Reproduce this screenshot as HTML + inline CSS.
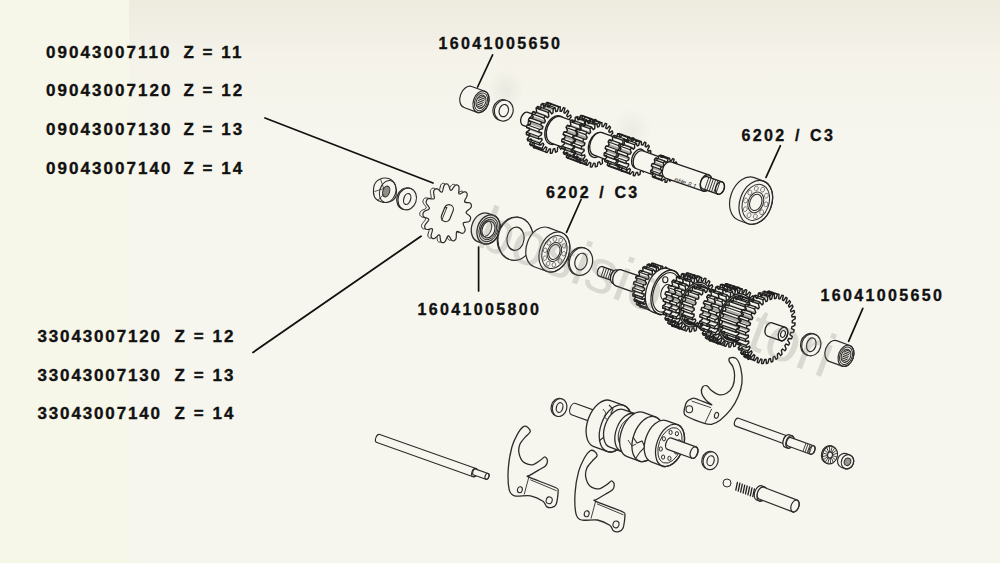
<!DOCTYPE html>
<html><head><meta charset="utf-8"><style>
html,body{margin:0;padding:0;}
body{width:1000px;height:563px;overflow:hidden;position:relative;background:#f7f6ee;}
#strip{position:absolute;left:0;top:0;width:129px;height:563px;background:#f7f7e9;}
#topshade{position:absolute;left:129px;top:0;width:871px;height:140px;background:linear-gradient(to bottom,rgba(200,188,160,0.2),rgba(200,188,160,0.06) 40%,rgba(200,188,160,0));}
svg{position:absolute;left:0;top:0;}
.t{position:absolute;font-family:"Liberation Sans",sans-serif;font-weight:bold;font-size:17px;line-height:18px;letter-spacing:2.05px;color:#111;white-space:pre;-webkit-text-stroke:0.35px #111;}
.s{font-size:16px;letter-spacing:2.35px;}
.wm{position:absolute;font-family:"Liberation Sans",sans-serif;font-size:62px;line-height:normal;color:rgba(120,120,118,0.24);white-space:pre;transform-origin:0 0;}
</style></head><body>
<div id="strip"></div>
<div id="topshade"></div>
<div style="position:absolute;left:488px;top:70px;width:36px;height:40px;background:radial-gradient(closest-side,rgba(150,150,145,0.12),rgba(150,150,145,0));"></div>
<div style="position:absolute;left:612px;top:108px;width:40px;height:44px;background:radial-gradient(closest-side,rgba(150,150,145,0.11),rgba(150,150,145,0));"></div>
<svg width="1000" height="563" viewBox="0 0 1000 563">
<line x1="265" y1="118" x2="433" y2="183" stroke="#111" stroke-width="1.8" stroke-linecap="round"/>
<line x1="253" y1="352.4" x2="421" y2="236.2" stroke="#111" stroke-width="1.8" stroke-linecap="round"/>
<line x1="492.6" y1="54.8" x2="477.6" y2="87" stroke="#111" stroke-width="1.7" stroke-linecap="round"/>
<line x1="780.4" y1="145.7" x2="766" y2="177.4" stroke="#111" stroke-width="1.7" stroke-linecap="round"/>
<line x1="581.1" y1="199.5" x2="566.5" y2="232.3" stroke="#111" stroke-width="1.7" stroke-linecap="round"/>
<line x1="478.6" y1="247" x2="478.6" y2="291" stroke="#111" stroke-width="1.7" stroke-linecap="round"/>
<line x1="862.8" y1="308.4" x2="848.6" y2="341.3" stroke="#111" stroke-width="1.7" stroke-linecap="round"/>
<g transform="translate(474.5 472.6) rotate(19.5)"><path d="M-102 -4.3 L0 -4.3 A2.6 4.3 0 0 1 0 4.3 L-102 4.3 A2.6 4.3 0 0 1 -102 -4.3 Z" fill="#f7f6ee" stroke="#2c2c2c" stroke-width="1.1" stroke-linejoin="round"/><ellipse cx="0" cy="0" rx="2.6" ry="4.3" fill="none" stroke="#2c2c2c" stroke-width="1.1"/></g>
<g transform="translate(487 476.4) rotate(19.5)"><path d="M-13 -3.1 L0 -3.1 A1.9 3.1 0 0 1 0 3.1 L-13 3.1 A1.9 3.1 0 0 1 -13 -3.1 Z" fill="#f7f6ee" stroke="#2c2c2c" stroke-width="1.1" stroke-linejoin="round"/><ellipse cx="0" cy="0" rx="1.9" ry="3.1" fill="none" stroke="#2c2c2c" stroke-width="1.1"/></g>
<g transform="translate(481 101.8) rotate(20)"><path d="M-14 -11.2 L0 -11.2 A7.6 11.2 0 0 1 0 11.2 L-14 11.2 A7.6 11.2 0 0 1 -14 -11.2 Z" fill="#f7f6ee" stroke="#2c2c2c" stroke-width="1.2" stroke-linejoin="round"/><ellipse cx="0" cy="0" rx="7.6" ry="11.2" fill="none" stroke="#2c2c2c" stroke-width="1.2"/><ellipse cx="0" cy="0" rx="6.2" ry="9.2" fill="none" stroke="#2c2c2c" stroke-width="1"/><ellipse cx="0" cy="0" rx="4.7" ry="6.9" fill="#e6e4d8" stroke="#2c2c2c" stroke-width="1"/></g>
<g transform="translate(481 101.8) rotate(20)"><path d="M-3.4 -5.6H2.8" stroke="#2c2c2c" stroke-width="0.9"/><path d="M-3.4 -3.8H2.8" stroke="#2c2c2c" stroke-width="0.9"/><path d="M-3.4 -2H2.8" stroke="#2c2c2c" stroke-width="0.9"/><path d="M-3.4 -0.2H2.8" stroke="#2c2c2c" stroke-width="0.9"/><path d="M-3.4 1.6H2.8" stroke="#2c2c2c" stroke-width="0.9"/><path d="M-3.4 3.4H2.8" stroke="#2c2c2c" stroke-width="0.9"/><path d="M-3.4 5.2H2.8" stroke="#2c2c2c" stroke-width="0.9"/></g>
<ellipse cx="502.3" cy="110.1" rx="9.3" ry="10.5" fill="#f7f6ee" stroke="#2c2c2c" stroke-width="1.2" transform="rotate(15 502.3 110.1)"/>
<ellipse cx="503.8" cy="110.6" rx="9.3" ry="10.5" fill="#f7f6ee" stroke="#2c2c2c" stroke-width="1.2" transform="rotate(15 503.8 110.6)"/>
<ellipse cx="503.8" cy="110.6" rx="4.6" ry="6.2" fill="#f7f6ee" stroke="#2c2c2c" stroke-width="1.2" transform="rotate(15 503.8 110.6)"/>
<g transform="translate(533 121.6) rotate(20)"><path d="M-8 -7 L0 -7 A4.5 7 0 0 1 0 7 L-8 7 A4.5 7 0 0 1 -8 -7 Z" fill="#f7f6ee" stroke="#1f1f1f" stroke-width="1.3" stroke-linejoin="round"/><ellipse cx="0" cy="0" rx="4.5" ry="7" fill="none" stroke="#1f1f1f" stroke-width="1.3"/></g>
<g transform="translate(555.3 130.1) rotate(20)"><polygon points="-13,-24 -12.2,-24 -11.4,-23.9 -11,-19.4 -10.3,-19.2 -9.7,-19 -8.2,-22.8 -7.4,-22.4 -6.7,-21.9 -7.2,-17.5 -6.6,-17 -6,-16.5 -3.8,-19.4 -3.2,-18.7 -2.6,-17.8 -4,-13.9 -3.5,-13.2 -3.1,-12.4 -0.4,-14.1 0.1,-13.1 0.5,-12 -1.6,-8.9 -1.3,-8 -1.1,-7.1 1.8,-7.4 2.1,-6.2 2.3,-5 -0.4,-3.1 -0.3,-2.1 -0.2,-1 2.6,0 2.6,1.3 2.5,2.5 -0.4,3.1 -0.5,4.1 -0.6,5.1 1.8,7.4 1.6,8.6 1.3,9.8 -1.6,8.9 -1.9,9.8 -2.3,10.7 -0.4,14.1 -0.9,15.1 -1.4,16.1 -4,13.9 -4.4,14.6 -4.9,15.3 -3.8,19.4 -4.5,20.1 -5.2,20.8 -7.2,17.5 -7.8,18 -8.4,18.4 -8.2,22.8 -9,23.2 -9.8,23.5 -11,19.4 -11.7,19.6 -12.3,19.7 -13,24 -13.8,24 -14.6,23.9 -15,19.4 -15.7,19.2 -16.3,19 -17.8,22.8 -18.6,22.4 -19.3,21.9 -18.8,17.5 -19.4,17 -20,16.5 -22.2,19.4 -22.8,18.7 -23.4,17.8 -22,13.9 -22.5,13.2 -22.9,12.4 -25.6,14.1 -26.1,13.1 -26.5,12 -24.4,8.9 -24.7,8 -24.9,7.1 -27.8,7.4 -28.1,6.2 -28.3,5 -25.6,3.1 -25.7,2.1 -25.8,1 -28.6,0 -28.6,-1.3 -28.5,-2.5 -25.6,-3.1 -25.5,-4.1 -25.4,-5.1 -27.8,-7.4 -27.6,-8.6 -27.3,-9.8 -24.4,-8.9 -24.1,-9.8 -23.7,-10.7 -25.6,-14.1 -25.1,-15.1 -24.6,-16.1 -22,-13.9 -21.6,-14.6 -21.1,-15.3 -22.2,-19.4 -21.5,-20.1 -20.8,-20.8 -18.8,-17.5 -18.2,-18 -17.6,-18.4 -17.8,-22.8 -17,-23.2 -16.2,-23.5 -15,-19.4 -14.3,-19.6 -13.7,-19.7 -13,-24" fill="#f7f6ee"/><rect x="-13" y="-19.7" width="13" height="39.4" fill="#f7f6ee"/><polygon points="-15,19.4 -2,19.4 -3.5,18.9 -16.5,18.9" fill="#a9a8a0"/><polygon points="-18.8,17.5 -5.8,17.5 -7.1,16.3 -20.1,16.3" fill="#a9a8a0"/><polygon points="-22,13.9 -9,13.9 -10.1,12.2 -23.1,12.2" fill="#a9a8a0"/><polygon points="-24.4,8.9 -11.4,8.9 -12,6.8 -25,6.8" fill="#a9a8a0"/><polygon points="-25.6,3.1 -12.6,3.1 -12.8,0.7 -25.8,0.7" fill="#a9a8a0"/><polygon points="-25.6,-3.1 -12.6,-3.1 -12.3,-5.4 -25.3,-5.4" fill="#a9a8a0"/><polygon points="-24.4,-8.9 -11.4,-8.9 -10.6,-11 -23.6,-11" fill="#a9a8a0"/><polygon points="-22,-13.9 -9,-13.9 -7.9,-15.5 -20.9,-15.5" fill="#a9a8a0"/><polygon points="-18.8,-17.5 -5.8,-17.5 -4.4,-18.5 -17.4,-18.5" fill="#a9a8a0"/><polyline points="-13,24 -13.8,24 -14.6,23.9 -15,19.4 -15.7,19.2 -16.3,19 -17.8,22.8 -18.6,22.4 -19.3,21.9 -18.8,17.5 -19.4,17 -20,16.5 -22.2,19.4 -22.8,18.7 -23.4,17.8 -22,13.9 -22.5,13.2 -22.9,12.4 -25.6,14.1 -26.1,13.1 -26.5,12 -24.4,8.9 -24.7,8 -24.9,7.1 -27.8,7.4 -28.1,6.2 -28.3,5 -25.6,3.1 -25.7,2.1 -25.8,1 -28.6,0 -28.6,-1.3 -28.5,-2.5 -25.6,-3.1 -25.5,-4.1 -25.4,-5.1 -27.8,-7.4 -27.6,-8.6 -27.3,-9.8 -24.4,-8.9 -24.1,-9.8 -23.7,-10.7 -25.6,-14.1 -25.1,-15.1 -24.6,-16.1 -22,-13.9 -21.6,-14.6 -21.1,-15.3 -22.2,-19.4 -21.5,-20.1 -20.8,-20.8 -18.8,-17.5 -18.2,-18 -17.6,-18.4 -17.8,-22.8 -17,-23.2 -16.2,-23.5 -15,-19.4 -14.3,-19.6 -13.7,-19.7 -13,-24" fill="none" stroke="#1f1f1f" stroke-width="1.4" stroke-linejoin="round"/><path d="M-14.9 23.8H-1.9M-17.8 22.8H-4.8M-19.6 21.8H-6.6M-22.2 19.4H-9.2M-23.6 17.6H-10.6M-25.6 14.1H-12.6M-26.6 11.7H-13.6M-27.8 7.4H-14.8M-28.3 4.6H-15.3M-28.6 0H-15.6M-28.5 -2.9H-15.5M-27.8 -7.4H-14.8M-27.2 -10.1H-14.2M-25.6 -14.1H-12.6M-24.4 -16.3H-11.4M-22.2 -19.4H-9.2M-20.6 -21H-7.6M-17.8 -22.8H-4.8M-16 -23.5H-3" stroke="#1f1f1f" stroke-width="1.2"/><polygon points="0,-24 0.8,-24 1.6,-23.9 2,-19.4 2.7,-19.2 3.3,-19 4.8,-22.8 5.6,-22.4 6.3,-21.9 5.8,-17.5 6.4,-17 7,-16.5 9.2,-19.4 9.8,-18.7 10.4,-17.8 9,-13.9 9.5,-13.2 9.9,-12.4 12.6,-14.1 13.1,-13.1 13.5,-12 11.4,-8.9 11.7,-8 11.9,-7.1 14.8,-7.4 15.1,-6.2 15.3,-5 12.6,-3.1 12.7,-2.1 12.8,-1 15.6,0 15.6,1.3 15.5,2.5 12.6,3.1 12.5,4.1 12.4,5.1 14.8,7.4 14.6,8.6 14.3,9.8 11.4,8.9 11.1,9.8 10.7,10.7 12.6,14.1 12.1,15.1 11.6,16.1 9,13.9 8.6,14.6 8.1,15.3 9.2,19.4 8.5,20.1 7.8,20.8 5.8,17.5 5.2,18 4.6,18.4 4.8,22.8 4,23.2 3.2,23.5 2,19.4 1.3,19.6 0.7,19.7 0,24 -0.8,24 -1.6,23.9 -2,19.4 -2.7,19.2 -3.3,19 -4.8,22.8 -5.6,22.4 -6.3,21.9 -5.8,17.5 -6.4,17 -7,16.5 -9.2,19.4 -9.8,18.7 -10.4,17.8 -9,13.9 -9.5,13.2 -9.9,12.4 -12.6,14.1 -13.1,13.1 -13.5,12 -11.4,8.9 -11.7,8 -11.9,7.1 -14.8,7.4 -15.1,6.2 -15.3,5 -12.6,3.1 -12.7,2.1 -12.8,1 -15.6,0 -15.6,-1.3 -15.5,-2.5 -12.6,-3.1 -12.5,-4.1 -12.4,-5.1 -14.8,-7.4 -14.6,-8.6 -14.3,-9.8 -11.4,-8.9 -11.1,-9.8 -10.7,-10.7 -12.6,-14.1 -12.1,-15.1 -11.6,-16.1 -9,-13.9 -8.6,-14.6 -8.1,-15.3 -9.2,-19.4 -8.5,-20.1 -7.8,-20.8 -5.8,-17.5 -5.2,-18 -4.6,-18.4 -4.8,-22.8 -4,-23.2 -3.2,-23.5 -2,-19.4 -1.3,-19.6 -0.7,-19.7 0,-24" fill="#f7f6ee" stroke="#1f1f1f" stroke-width="1.4" stroke-linejoin="round"/><ellipse cx="0" cy="0" rx="9.8" ry="15" fill="#f7f6ee" stroke="#1f1f1f" stroke-width="1.3"/></g>
<g transform="translate(576.7 137.4) rotate(20)"><path d="M-22 -14 L0 -14 A9.1 14 0 0 1 0 14 L-22 14 A9.1 14 0 0 1 -22 -14 Z" fill="#f7f6ee" stroke="#1f1f1f" stroke-width="1.3" stroke-linejoin="round"/><ellipse cx="0" cy="0" rx="9.1" ry="14" fill="none" stroke="#1f1f1f" stroke-width="1.3"/></g>
<g transform="translate(587.1 141.1) rotate(20)"><polygon points="-10,-23 -9.2,-23 -8.4,-22.9 -8,-18.8 -7.3,-18.6 -6.6,-18.4 -5.1,-21.8 -4.4,-21.3 -3.6,-20.8 -4.1,-16.8 -3.5,-16.3 -2.9,-15.7 -0.8,-18.2 -0.2,-17.3 0.4,-16.5 -0.9,-12.9 -0.4,-12.1 0,-11.3 2.5,-12.6 2.9,-11.5 3.3,-10.4 1.4,-7.7 1.6,-6.7 1.8,-5.7 4.5,-5.6 4.7,-4.4 4.8,-3.2 2.4,-1.6 2.4,-0.5 2.4,0.5 4.9,1.9 4.8,3.2 4.7,4.4 2,4.7 1.8,5.7 1.6,6.7 3.7,9.2 3.3,10.4 2.9,11.5 0.4,10.4 0,11.3 -0.4,12.1 1,15.6 0.4,16.5 -0.2,17.3 -2.4,15.1 -2.9,15.7 -3.5,16.3 -2.9,20.2 -3.6,20.8 -4.4,21.3 -6,18.1 -6.6,18.4 -7.3,18.6 -7.5,22.7 -8.4,22.9 -9.2,23 -10,19.1 -10.7,19.1 -11.4,19 -12.5,22.7 -13.3,22.4 -14.1,22.1 -14,18.1 -14.7,17.7 -15.3,17.3 -17.1,20.2 -17.8,19.6 -18.5,18.9 -17.6,15.1 -18.1,14.4 -18.7,13.7 -21,15.6 -21.5,14.6 -22,13.6 -20.4,10.4 -20.7,9.5 -21.1,8.6 -23.7,9.2 -24,8.1 -24.3,6.9 -22,4.7 -22.2,3.7 -22.3,2.6 -24.9,1.9 -24.9,0.6 -24.9,-0.6 -22.4,-1.6 -22.3,-2.6 -22.2,-3.7 -24.5,-5.6 -24.3,-6.9 -24,-8.1 -21.4,-7.7 -21.1,-8.6 -20.7,-9.5 -22.5,-12.6 -22,-13.6 -21.5,-14.6 -19.1,-12.9 -18.7,-13.7 -18.1,-14.4 -19.2,-18.2 -18.5,-18.9 -17.8,-19.6 -15.9,-16.8 -15.3,-17.3 -14.7,-17.7 -14.9,-21.8 -14.1,-22.1 -13.3,-22.4 -12,-18.8 -11.4,-19 -10.7,-19.1 -10,-23" fill="#f7f6ee"/><rect x="-10" y="-19.1" width="10" height="38.2" fill="#f7f6ee"/><polygon points="-14,18.1 -4,18.1 -5.5,17.1 -15.5,17.1" fill="#a9a8a0"/><polygon points="-17.6,15.1 -7.6,15.1 -8.8,13.5 -18.8,13.5" fill="#a9a8a0"/><polygon points="-20.4,10.4 -10.4,10.4 -11.2,8.4 -21.2,8.4" fill="#a9a8a0"/><polygon points="-22,4.7 -12,4.7 -12.3,2.3 -22.3,2.3" fill="#a9a8a0"/><polygon points="-22.4,-1.6 -12.4,-1.6 -12.1,-3.9 -22.1,-3.9" fill="#a9a8a0"/><polygon points="-21.4,-7.7 -11.4,-7.7 -10.6,-9.8 -20.6,-9.8" fill="#a9a8a0"/><polygon points="-19.1,-12.9 -9.1,-12.9 -8,-14.6 -18,-14.6" fill="#a9a8a0"/><polygon points="-15.9,-16.8 -5.9,-16.8 -4.5,-17.8 -14.5,-17.8" fill="#a9a8a0"/><polygon points="-12,-18.8 -2,-18.8 -0.5,-19.1 -10.5,-19.1" fill="#a9a8a0"/><polyline points="-10,19.1 -10.7,19.1 -11.4,19 -12.5,22.7 -13.3,22.4 -14.1,22.1 -14,18.1 -14.7,17.7 -15.3,17.3 -17.1,20.2 -17.8,19.6 -18.5,18.9 -17.6,15.1 -18.1,14.4 -18.7,13.7 -21,15.6 -21.5,14.6 -22,13.6 -20.4,10.4 -20.7,9.5 -21.1,8.6 -23.7,9.2 -24,8.1 -24.3,6.9 -22,4.7 -22.2,3.7 -22.3,2.6 -24.9,1.9 -24.9,0.6 -24.9,-0.6 -22.4,-1.6 -22.3,-2.6 -22.2,-3.7 -24.5,-5.6 -24.3,-6.9 -24,-8.1 -21.4,-7.7 -21.1,-8.6 -20.7,-9.5 -22.5,-12.6 -22,-13.6 -21.5,-14.6 -19.1,-12.9 -18.7,-13.7 -18.1,-14.4 -19.2,-18.2 -18.5,-18.9 -17.8,-19.6 -15.9,-16.8 -15.3,-17.3 -14.7,-17.7 -14.9,-21.8 -14.1,-22.1 -13.3,-22.4 -12,-18.8 -11.4,-19 -10.7,-19.1 -10,-23" fill="none" stroke="#1f1f1f" stroke-width="1.4" stroke-linejoin="round"/><path d="M-12.5 22.7H-2.5M-14.3 22H-4.3M-17.1 20.2H-7.1M-18.7 18.7H-8.7M-21 15.6H-11M-22.2 13.3H-12.2M-23.7 9.2H-13.7M-24.3 6.5H-14.3M-24.9 1.9H-14.9M-24.9 -1H-14.9M-24.5 -5.6H-14.5M-23.9 -8.4H-13.9M-22.5 -12.6H-12.5M-21.4 -14.9H-11.4M-19.2 -18.2H-9.2M-17.6 -19.8H-7.6M-14.9 -21.8H-4.9M-13 -22.5H-3" stroke="#1f1f1f" stroke-width="1.2"/><polygon points="0,-23 0.8,-23 1.6,-22.9 2,-18.8 2.7,-18.6 3.4,-18.4 4.9,-21.8 5.6,-21.3 6.4,-20.8 5.9,-16.8 6.5,-16.3 7.1,-15.7 9.2,-18.2 9.8,-17.3 10.4,-16.5 9.1,-12.9 9.6,-12.1 10,-11.3 12.5,-12.6 12.9,-11.5 13.3,-10.4 11.4,-7.7 11.6,-6.7 11.8,-5.7 14.5,-5.6 14.7,-4.4 14.8,-3.2 12.4,-1.6 12.4,-0.5 12.4,0.5 14.9,1.9 14.8,3.2 14.7,4.4 12,4.7 11.8,5.7 11.6,6.7 13.7,9.2 13.3,10.4 12.9,11.5 10.4,10.4 10,11.3 9.6,12.1 11,15.6 10.4,16.5 9.8,17.3 7.6,15.1 7.1,15.7 6.5,16.3 7.1,20.2 6.4,20.8 5.6,21.3 4,18.1 3.4,18.4 2.7,18.6 2.5,22.7 1.6,22.9 0.8,23 0,19.1 -0.7,19.1 -1.4,19 -2.5,22.7 -3.3,22.4 -4.1,22.1 -4,18.1 -4.7,17.7 -5.3,17.3 -7.1,20.2 -7.8,19.6 -8.5,18.9 -7.6,15.1 -8.1,14.4 -8.7,13.7 -11,15.6 -11.5,14.6 -12,13.6 -10.4,10.4 -10.7,9.5 -11.1,8.6 -13.7,9.2 -14,8.1 -14.3,6.9 -12,4.7 -12.2,3.7 -12.3,2.6 -14.9,1.9 -14.9,0.6 -14.9,-0.6 -12.4,-1.6 -12.3,-2.6 -12.2,-3.7 -14.5,-5.6 -14.3,-6.9 -14,-8.1 -11.4,-7.7 -11.1,-8.6 -10.7,-9.5 -12.5,-12.6 -12,-13.6 -11.5,-14.6 -9.1,-12.9 -8.7,-13.7 -8.1,-14.4 -9.2,-18.2 -8.5,-18.9 -7.8,-19.6 -5.9,-16.8 -5.3,-17.3 -4.7,-17.7 -4.9,-21.8 -4.1,-22.1 -3.3,-22.4 -2,-18.8 -1.4,-19 -0.7,-19.1 0,-23" fill="#f7f6ee" stroke="#1f1f1f" stroke-width="1.4" stroke-linejoin="round"/></g>
<g transform="translate(597.4 144.9) rotate(20)"><polygon points="-10,-23 -9.2,-23 -8.4,-22.9 -8,-18.8 -7.3,-18.6 -6.6,-18.4 -5.1,-21.8 -4.4,-21.3 -3.6,-20.8 -4.1,-16.8 -3.5,-16.3 -2.9,-15.7 -0.8,-18.2 -0.2,-17.3 0.4,-16.5 -0.9,-12.9 -0.4,-12.1 0,-11.3 2.5,-12.6 2.9,-11.5 3.3,-10.4 1.4,-7.7 1.6,-6.7 1.8,-5.7 4.5,-5.6 4.7,-4.4 4.8,-3.2 2.4,-1.6 2.4,-0.5 2.4,0.5 4.9,1.9 4.8,3.2 4.7,4.4 2,4.7 1.8,5.7 1.6,6.7 3.7,9.2 3.3,10.4 2.9,11.5 0.4,10.4 0,11.3 -0.4,12.1 1,15.6 0.4,16.5 -0.2,17.3 -2.4,15.1 -2.9,15.7 -3.5,16.3 -2.9,20.2 -3.6,20.8 -4.4,21.3 -6,18.1 -6.6,18.4 -7.3,18.6 -7.5,22.7 -8.4,22.9 -9.2,23 -10,19.1 -10.7,19.1 -11.4,19 -12.5,22.7 -13.3,22.4 -14.1,22.1 -14,18.1 -14.7,17.7 -15.3,17.3 -17.1,20.2 -17.8,19.6 -18.5,18.9 -17.6,15.1 -18.1,14.4 -18.7,13.7 -21,15.6 -21.5,14.6 -22,13.6 -20.4,10.4 -20.7,9.5 -21.1,8.6 -23.7,9.2 -24,8.1 -24.3,6.9 -22,4.7 -22.2,3.7 -22.3,2.6 -24.9,1.9 -24.9,0.6 -24.9,-0.6 -22.4,-1.6 -22.3,-2.6 -22.2,-3.7 -24.5,-5.6 -24.3,-6.9 -24,-8.1 -21.4,-7.7 -21.1,-8.6 -20.7,-9.5 -22.5,-12.6 -22,-13.6 -21.5,-14.6 -19.1,-12.9 -18.7,-13.7 -18.1,-14.4 -19.2,-18.2 -18.5,-18.9 -17.8,-19.6 -15.9,-16.8 -15.3,-17.3 -14.7,-17.7 -14.9,-21.8 -14.1,-22.1 -13.3,-22.4 -12,-18.8 -11.4,-19 -10.7,-19.1 -10,-23" fill="#f7f6ee"/><rect x="-10" y="-19.1" width="10" height="38.2" fill="#f7f6ee"/><polygon points="-14,18.1 -4,18.1 -5.5,17.1 -15.5,17.1" fill="#a9a8a0"/><polygon points="-17.6,15.1 -7.6,15.1 -8.8,13.5 -18.8,13.5" fill="#a9a8a0"/><polygon points="-20.4,10.4 -10.4,10.4 -11.2,8.4 -21.2,8.4" fill="#a9a8a0"/><polygon points="-22,4.7 -12,4.7 -12.3,2.3 -22.3,2.3" fill="#a9a8a0"/><polygon points="-22.4,-1.6 -12.4,-1.6 -12.1,-3.9 -22.1,-3.9" fill="#a9a8a0"/><polygon points="-21.4,-7.7 -11.4,-7.7 -10.6,-9.8 -20.6,-9.8" fill="#a9a8a0"/><polygon points="-19.1,-12.9 -9.1,-12.9 -8,-14.6 -18,-14.6" fill="#a9a8a0"/><polygon points="-15.9,-16.8 -5.9,-16.8 -4.5,-17.8 -14.5,-17.8" fill="#a9a8a0"/><polygon points="-12,-18.8 -2,-18.8 -0.5,-19.1 -10.5,-19.1" fill="#a9a8a0"/><polyline points="-10,19.1 -10.7,19.1 -11.4,19 -12.5,22.7 -13.3,22.4 -14.1,22.1 -14,18.1 -14.7,17.7 -15.3,17.3 -17.1,20.2 -17.8,19.6 -18.5,18.9 -17.6,15.1 -18.1,14.4 -18.7,13.7 -21,15.6 -21.5,14.6 -22,13.6 -20.4,10.4 -20.7,9.5 -21.1,8.6 -23.7,9.2 -24,8.1 -24.3,6.9 -22,4.7 -22.2,3.7 -22.3,2.6 -24.9,1.9 -24.9,0.6 -24.9,-0.6 -22.4,-1.6 -22.3,-2.6 -22.2,-3.7 -24.5,-5.6 -24.3,-6.9 -24,-8.1 -21.4,-7.7 -21.1,-8.6 -20.7,-9.5 -22.5,-12.6 -22,-13.6 -21.5,-14.6 -19.1,-12.9 -18.7,-13.7 -18.1,-14.4 -19.2,-18.2 -18.5,-18.9 -17.8,-19.6 -15.9,-16.8 -15.3,-17.3 -14.7,-17.7 -14.9,-21.8 -14.1,-22.1 -13.3,-22.4 -12,-18.8 -11.4,-19 -10.7,-19.1 -10,-23" fill="none" stroke="#1f1f1f" stroke-width="1.4" stroke-linejoin="round"/><path d="M-12.5 22.7H-2.5M-14.3 22H-4.3M-17.1 20.2H-7.1M-18.7 18.7H-8.7M-21 15.6H-11M-22.2 13.3H-12.2M-23.7 9.2H-13.7M-24.3 6.5H-14.3M-24.9 1.9H-14.9M-24.9 -1H-14.9M-24.5 -5.6H-14.5M-23.9 -8.4H-13.9M-22.5 -12.6H-12.5M-21.4 -14.9H-11.4M-19.2 -18.2H-9.2M-17.6 -19.8H-7.6M-14.9 -21.8H-4.9M-13 -22.5H-3" stroke="#1f1f1f" stroke-width="1.2"/><polygon points="0,-23 0.8,-23 1.6,-22.9 2,-18.8 2.7,-18.6 3.4,-18.4 4.9,-21.8 5.6,-21.3 6.4,-20.8 5.9,-16.8 6.5,-16.3 7.1,-15.7 9.2,-18.2 9.8,-17.3 10.4,-16.5 9.1,-12.9 9.6,-12.1 10,-11.3 12.5,-12.6 12.9,-11.5 13.3,-10.4 11.4,-7.7 11.6,-6.7 11.8,-5.7 14.5,-5.6 14.7,-4.4 14.8,-3.2 12.4,-1.6 12.4,-0.5 12.4,0.5 14.9,1.9 14.8,3.2 14.7,4.4 12,4.7 11.8,5.7 11.6,6.7 13.7,9.2 13.3,10.4 12.9,11.5 10.4,10.4 10,11.3 9.6,12.1 11,15.6 10.4,16.5 9.8,17.3 7.6,15.1 7.1,15.7 6.5,16.3 7.1,20.2 6.4,20.8 5.6,21.3 4,18.1 3.4,18.4 2.7,18.6 2.5,22.7 1.6,22.9 0.8,23 0,19.1 -0.7,19.1 -1.4,19 -2.5,22.7 -3.3,22.4 -4.1,22.1 -4,18.1 -4.7,17.7 -5.3,17.3 -7.1,20.2 -7.8,19.6 -8.5,18.9 -7.6,15.1 -8.1,14.4 -8.7,13.7 -11,15.6 -11.5,14.6 -12,13.6 -10.4,10.4 -10.7,9.5 -11.1,8.6 -13.7,9.2 -14,8.1 -14.3,6.9 -12,4.7 -12.2,3.7 -12.3,2.6 -14.9,1.9 -14.9,0.6 -14.9,-0.6 -12.4,-1.6 -12.3,-2.6 -12.2,-3.7 -14.5,-5.6 -14.3,-6.9 -14,-8.1 -11.4,-7.7 -11.1,-8.6 -10.7,-9.5 -12.5,-12.6 -12,-13.6 -11.5,-14.6 -9.1,-12.9 -8.7,-13.7 -8.1,-14.4 -9.2,-18.2 -8.5,-18.9 -7.8,-19.6 -5.9,-16.8 -5.3,-17.3 -4.7,-17.7 -4.9,-21.8 -4.1,-22.1 -3.3,-22.4 -2,-18.8 -1.4,-19 -0.7,-19.1 0,-23" fill="#f7f6ee" stroke="#1f1f1f" stroke-width="1.4" stroke-linejoin="round"/><ellipse cx="0" cy="0" rx="8.5" ry="13" fill="#f7f6ee" stroke="#1f1f1f" stroke-width="1.3"/></g>
<g transform="translate(615 150.1) rotate(20)"><path d="M-18 -12 L0 -12 A7.8 12 0 0 1 0 12 L-18 12 A7.8 12 0 0 1 -18 -12 Z" fill="#f7f6ee" stroke="#1f1f1f" stroke-width="1.3" stroke-linejoin="round"/><ellipse cx="0" cy="0" rx="7.8" ry="12" fill="none" stroke="#1f1f1f" stroke-width="1.3"/></g>
<g transform="translate(626.8 154.4) rotate(20)"><polygon points="-11,-17.7 -10.2,-17.7 -9.4,-17.5 -9.1,-14 -8.4,-13.8 -7.8,-13.5 -6.3,-16.2 -5.6,-15.6 -4.9,-15 -5.5,-11.6 -5,-11 -4.5,-10.3 -2.5,-11.8 -1.9,-10.9 -1.5,-9.9 -2.9,-7.2 -2.6,-6.3 -2.4,-5.4 -0.1,-5.5 0.2,-4.3 0.3,-3.1 -1.7,-1.5 -1.7,-0.5 -1.7,0.5 0.4,1.9 0.3,3.1 0.2,4.3 -2.1,4.4 -2.4,5.4 -2.6,6.3 -1,8.8 -1.5,9.9 -1.9,10.9 -4.1,9.6 -4.5,10.3 -5,11 -4.2,14.3 -4.9,15 -5.6,15.6 -7.2,13.1 -7.8,13.5 -8.4,13.8 -8.6,17.3 -9.4,17.5 -10.2,17.7 -11,14.3 -11.7,14.3 -12.3,14.2 -13.4,17.3 -14.2,17 -14.9,16.6 -14.8,13.1 -15.4,12.7 -15.9,12.2 -17.8,14.3 -18.4,13.6 -19,12.7 -17.9,9.6 -18.3,8.8 -18.7,8 -21,8.8 -21.3,7.8 -21.7,6.6 -19.9,4.4 -20,3.5 -20.2,2.5 -22.4,1.9 -22.5,0.6 -22.5,-0.6 -20.3,-1.5 -20.2,-2.5 -20,-3.5 -21.9,-5.5 -21.7,-6.6 -21.3,-7.8 -19.1,-7.2 -18.7,-8 -18.3,-8.8 -19.5,-11.8 -19,-12.7 -18.4,-13.6 -16.5,-11.6 -15.9,-12.2 -15.4,-12.7 -15.7,-16.2 -14.9,-16.6 -14.2,-17 -12.9,-14 -12.3,-14.2 -11.7,-14.3 -11,-17.7" fill="#f7f6ee"/><rect x="-11" y="-14.3" width="11" height="28.7" fill="#f7f6ee"/><polygon points="-14.8,13.1 -3.8,13.1 -5.1,12 -16.1,12" fill="#a9a8a0"/><polygon points="-17.9,9.6 -6.9,9.6 -7.8,7.8 -18.8,7.8" fill="#a9a8a0"/><polygon points="-19.9,4.4 -8.9,4.4 -9.2,2.2 -20.2,2.2" fill="#a9a8a0"/><polygon points="-20.3,-1.5 -9.3,-1.5 -9,-3.7 -20,-3.7" fill="#a9a8a0"/><polygon points="-19.1,-7.2 -8.1,-7.2 -7.2,-9 -18.2,-9" fill="#a9a8a0"/><polygon points="-16.5,-11.6 -5.5,-11.6 -4.2,-12.8 -15.2,-12.8" fill="#a9a8a0"/><polygon points="-12.9,-14 -1.9,-14 -0.5,-14.3 -11.5,-14.3" fill="#a9a8a0"/><polyline points="-11,14.3 -11.7,14.3 -12.3,14.2 -13.4,17.3 -14.2,17 -14.9,16.6 -14.8,13.1 -15.4,12.7 -15.9,12.2 -17.8,14.3 -18.4,13.6 -19,12.7 -17.9,9.6 -18.3,8.8 -18.7,8 -21,8.8 -21.3,7.8 -21.7,6.6 -19.9,4.4 -20,3.5 -20.2,2.5 -22.4,1.9 -22.5,0.6 -22.5,-0.6 -20.3,-1.5 -20.2,-2.5 -20,-3.5 -21.9,-5.5 -21.7,-6.6 -21.3,-7.8 -19.1,-7.2 -18.7,-8 -18.3,-8.8 -19.5,-11.8 -19,-12.7 -18.4,-13.6 -16.5,-11.6 -15.9,-12.2 -15.4,-12.7 -15.7,-16.2 -14.9,-16.6 -14.2,-17 -12.9,-14 -12.3,-14.2 -11.7,-14.3 -11,-17.7" fill="none" stroke="#1f1f1f" stroke-width="1.4" stroke-linejoin="round"/><path d="M-13.4 17.3H-2.4M-15.1 16.5H-4.1M-17.8 14.3H-6.8M-19.2 12.5H-8.2M-21 8.9H-10M-21.7 6.3H-10.7M-22.4 1.9H-11.4M-22.5 -1H-11.5M-21.9 -5.5H-10.9M-21.2 -8.1H-10.2M-19.5 -11.8H-8.5M-18.2 -13.8H-7.2M-15.7 -16.2H-4.7M-14 -17.1H-3" stroke="#1f1f1f" stroke-width="1.2"/><polygon points="0,-17.7 0.8,-17.7 1.6,-17.5 1.9,-14 2.6,-13.8 3.2,-13.5 4.7,-16.2 5.4,-15.6 6.1,-15 5.5,-11.6 6,-11 6.5,-10.3 8.5,-11.8 9.1,-10.9 9.5,-9.9 8.1,-7.2 8.4,-6.3 8.6,-5.4 10.9,-5.5 11.2,-4.3 11.3,-3.1 9.3,-1.5 9.3,-0.5 9.3,0.5 11.4,1.9 11.3,3.1 11.2,4.3 8.9,4.4 8.6,5.4 8.4,6.3 10,8.8 9.5,9.9 9.1,10.9 6.9,9.6 6.5,10.3 6,11 6.8,14.3 6.1,15 5.4,15.6 3.8,13.1 3.2,13.5 2.6,13.8 2.4,17.3 1.6,17.5 0.8,17.7 0,14.3 -0.7,14.3 -1.3,14.2 -2.4,17.3 -3.2,17 -3.9,16.6 -3.8,13.1 -4.4,12.7 -4.9,12.2 -6.8,14.3 -7.4,13.6 -8,12.7 -6.9,9.6 -7.3,8.8 -7.7,8 -10,8.8 -10.3,7.8 -10.7,6.6 -8.9,4.4 -9,3.5 -9.2,2.5 -11.4,1.9 -11.5,0.6 -11.5,-0.6 -9.3,-1.5 -9.2,-2.5 -9,-3.5 -10.9,-5.5 -10.7,-6.6 -10.3,-7.8 -8.1,-7.2 -7.7,-8 -7.3,-8.8 -8.5,-11.8 -8,-12.7 -7.4,-13.6 -5.5,-11.6 -4.9,-12.2 -4.4,-12.7 -4.7,-16.2 -3.9,-16.6 -3.2,-17 -1.9,-14 -1.3,-14.2 -0.7,-14.3 0,-17.7" fill="#f7f6ee" stroke="#1f1f1f" stroke-width="1.4" stroke-linejoin="round"/></g>
<g transform="translate(638.5 158.7) rotate(20)"><polygon points="-11,-17.7 -10.2,-17.7 -9.4,-17.5 -9.1,-14 -8.4,-13.8 -7.8,-13.5 -6.3,-16.2 -5.6,-15.6 -4.9,-15 -5.5,-11.6 -5,-11 -4.5,-10.3 -2.5,-11.8 -1.9,-10.9 -1.5,-9.9 -2.9,-7.2 -2.6,-6.3 -2.4,-5.4 -0.1,-5.5 0.2,-4.3 0.3,-3.1 -1.7,-1.5 -1.7,-0.5 -1.7,0.5 0.4,1.9 0.3,3.1 0.2,4.3 -2.1,4.4 -2.4,5.4 -2.6,6.3 -1,8.8 -1.5,9.9 -1.9,10.9 -4.1,9.6 -4.5,10.3 -5,11 -4.2,14.3 -4.9,15 -5.6,15.6 -7.2,13.1 -7.8,13.5 -8.4,13.8 -8.6,17.3 -9.4,17.5 -10.2,17.7 -11,14.3 -11.7,14.3 -12.3,14.2 -13.4,17.3 -14.2,17 -14.9,16.6 -14.8,13.1 -15.4,12.7 -15.9,12.2 -17.8,14.3 -18.4,13.6 -19,12.7 -17.9,9.6 -18.3,8.8 -18.7,8 -21,8.8 -21.3,7.8 -21.7,6.6 -19.9,4.4 -20,3.5 -20.2,2.5 -22.4,1.9 -22.5,0.6 -22.5,-0.6 -20.3,-1.5 -20.2,-2.5 -20,-3.5 -21.9,-5.5 -21.7,-6.6 -21.3,-7.8 -19.1,-7.2 -18.7,-8 -18.3,-8.8 -19.5,-11.8 -19,-12.7 -18.4,-13.6 -16.5,-11.6 -15.9,-12.2 -15.4,-12.7 -15.7,-16.2 -14.9,-16.6 -14.2,-17 -12.9,-14 -12.3,-14.2 -11.7,-14.3 -11,-17.7" fill="#f7f6ee"/><rect x="-11" y="-14.3" width="11" height="28.7" fill="#f7f6ee"/><polygon points="-14.8,13.1 -3.8,13.1 -5.1,12 -16.1,12" fill="#a9a8a0"/><polygon points="-17.9,9.6 -6.9,9.6 -7.8,7.8 -18.8,7.8" fill="#a9a8a0"/><polygon points="-19.9,4.4 -8.9,4.4 -9.2,2.2 -20.2,2.2" fill="#a9a8a0"/><polygon points="-20.3,-1.5 -9.3,-1.5 -9,-3.7 -20,-3.7" fill="#a9a8a0"/><polygon points="-19.1,-7.2 -8.1,-7.2 -7.2,-9 -18.2,-9" fill="#a9a8a0"/><polygon points="-16.5,-11.6 -5.5,-11.6 -4.2,-12.8 -15.2,-12.8" fill="#a9a8a0"/><polygon points="-12.9,-14 -1.9,-14 -0.5,-14.3 -11.5,-14.3" fill="#a9a8a0"/><polyline points="-11,14.3 -11.7,14.3 -12.3,14.2 -13.4,17.3 -14.2,17 -14.9,16.6 -14.8,13.1 -15.4,12.7 -15.9,12.2 -17.8,14.3 -18.4,13.6 -19,12.7 -17.9,9.6 -18.3,8.8 -18.7,8 -21,8.8 -21.3,7.8 -21.7,6.6 -19.9,4.4 -20,3.5 -20.2,2.5 -22.4,1.9 -22.5,0.6 -22.5,-0.6 -20.3,-1.5 -20.2,-2.5 -20,-3.5 -21.9,-5.5 -21.7,-6.6 -21.3,-7.8 -19.1,-7.2 -18.7,-8 -18.3,-8.8 -19.5,-11.8 -19,-12.7 -18.4,-13.6 -16.5,-11.6 -15.9,-12.2 -15.4,-12.7 -15.7,-16.2 -14.9,-16.6 -14.2,-17 -12.9,-14 -12.3,-14.2 -11.7,-14.3 -11,-17.7" fill="none" stroke="#1f1f1f" stroke-width="1.4" stroke-linejoin="round"/><path d="M-13.4 17.3H-2.4M-15.1 16.5H-4.1M-17.8 14.3H-6.8M-19.2 12.5H-8.2M-21 8.9H-10M-21.7 6.3H-10.7M-22.4 1.9H-11.4M-22.5 -1H-11.5M-21.9 -5.5H-10.9M-21.2 -8.1H-10.2M-19.5 -11.8H-8.5M-18.2 -13.8H-7.2M-15.7 -16.2H-4.7M-14 -17.1H-3" stroke="#1f1f1f" stroke-width="1.2"/><polygon points="0,-17.7 0.8,-17.7 1.6,-17.5 1.9,-14 2.6,-13.8 3.2,-13.5 4.7,-16.2 5.4,-15.6 6.1,-15 5.5,-11.6 6,-11 6.5,-10.3 8.5,-11.8 9.1,-10.9 9.5,-9.9 8.1,-7.2 8.4,-6.3 8.6,-5.4 10.9,-5.5 11.2,-4.3 11.3,-3.1 9.3,-1.5 9.3,-0.5 9.3,0.5 11.4,1.9 11.3,3.1 11.2,4.3 8.9,4.4 8.6,5.4 8.4,6.3 10,8.8 9.5,9.9 9.1,10.9 6.9,9.6 6.5,10.3 6,11 6.8,14.3 6.1,15 5.4,15.6 3.8,13.1 3.2,13.5 2.6,13.8 2.4,17.3 1.6,17.5 0.8,17.7 0,14.3 -0.7,14.3 -1.3,14.2 -2.4,17.3 -3.2,17 -3.9,16.6 -3.8,13.1 -4.4,12.7 -4.9,12.2 -6.8,14.3 -7.4,13.6 -8,12.7 -6.9,9.6 -7.3,8.8 -7.7,8 -10,8.8 -10.3,7.8 -10.7,6.6 -8.9,4.4 -9,3.5 -9.2,2.5 -11.4,1.9 -11.5,0.6 -11.5,-0.6 -9.3,-1.5 -9.2,-2.5 -9,-3.5 -10.9,-5.5 -10.7,-6.6 -10.3,-7.8 -8.1,-7.2 -7.7,-8 -7.3,-8.8 -8.5,-11.8 -8,-12.7 -7.4,-13.6 -5.5,-11.6 -4.9,-12.2 -4.4,-12.7 -4.7,-16.2 -3.9,-16.6 -3.2,-17 -1.9,-14 -1.3,-14.2 -0.7,-14.3 0,-17.7" fill="#f7f6ee" stroke="#1f1f1f" stroke-width="1.4" stroke-linejoin="round"/><ellipse cx="0" cy="0" rx="6.5" ry="10" fill="#f7f6ee" stroke="#1f1f1f" stroke-width="1.3"/></g>
<g transform="translate(659.5 167) rotate(20)"><path d="M-21 -9.5 L0 -9.5 A6.2 9.5 0 0 1 0 9.5 L-21 9.5 A6.2 9.5 0 0 1 -21 -9.5 Z" fill="#f7f6ee" stroke="#1f1f1f" stroke-width="1.3" stroke-linejoin="round"/><ellipse cx="0" cy="0" rx="6.2" ry="9.5" fill="none" stroke="#1f1f1f" stroke-width="1.3"/></g>
<g transform="translate(668.5 170.3) rotate(20)"><polygon points="-9.6,-12.5 -8.8,-12.4 -8.1,-12.3 -7.8,-9.6 -7.2,-9.3 -6.6,-8.9 -5.2,-10.5 -4.6,-9.8 -4,-9 -4.7,-6.5 -4.3,-5.8 -4,-5 -2.2,-5.2 -1.9,-4.1 -1.7,-2.9 -3.2,-1.4 -3.1,-0.5 -3.1,0.5 -1.6,1.8 -1.7,2.9 -1.9,4.1 -3.7,4.2 -4,5 -4.3,5.8 -3.5,8.2 -4,9 -4.6,9.8 -6.1,8.4 -6.6,8.9 -7.2,9.3 -7.3,12 -8.1,12.3 -8.8,12.4 -9.6,10 -10.2,10 -10.8,9.8 -11.9,12 -12.6,11.6 -13.3,11.1 -13.1,8.4 -13.6,7.9 -14.1,7.2 -15.7,8.2 -16.2,7.3 -16.6,6.3 -15.5,4.2 -15.7,3.3 -15.9,2.4 -17.6,1.8 -17.7,0.6 -17.7,-0.6 -16,-1.4 -15.9,-2.4 -15.7,-3.3 -17,-5.2 -16.6,-6.3 -16.2,-7.3 -14.5,-6.5 -14.1,-7.2 -13.6,-7.9 -14,-10.5 -13.3,-11.1 -12.6,-11.6 -11.4,-9.6 -10.8,-9.8 -10.2,-10 -9.6,-12.5" fill="#f7f6ee"/><rect x="-9.6" y="-10" width="9.6" height="20" fill="#f7f6ee"/><polygon points="-9.6,10 0,10 -1.4,9.8 -11,9.8" fill="#a9a8a0"/><polygon points="-13.1,8.4 -3.5,8.4 -4.6,7.1 -14.2,7.1" fill="#a9a8a0"/><polygon points="-15.5,4.2 -5.9,4.2 -6.4,2.1 -16,2.1" fill="#a9a8a0"/><polygon points="-16,-1.4 -6.4,-1.4 -6.1,-3.5 -15.7,-3.5" fill="#a9a8a0"/><polygon points="-14.5,-6.5 -4.9,-6.5 -3.9,-8 -13.5,-8" fill="#a9a8a0"/><polygon points="-11.4,-9.6 -1.8,-9.6 -0.4,-10 -10,-10" fill="#a9a8a0"/><polyline points="-9.6,10 -10.2,10 -10.8,9.8 -11.9,12 -12.6,11.6 -13.3,11.1 -13.1,8.4 -13.6,7.9 -14.1,7.2 -15.7,8.2 -16.2,7.3 -16.6,6.3 -15.5,4.2 -15.7,3.3 -15.9,2.4 -17.6,1.8 -17.7,0.6 -17.7,-0.6 -16,-1.4 -15.9,-2.4 -15.7,-3.3 -17,-5.2 -16.6,-6.2 -16.2,-7.3 -14.5,-6.5 -14.1,-7.2 -13.6,-7.9 -14,-10.5 -13.3,-11.1 -12.6,-11.6 -11.4,-9.6 -10.8,-9.8 -10.2,-10 -9.6,-12.5" fill="none" stroke="#1f1f1f" stroke-width="1.4" stroke-linejoin="round"/><path d="M-11.9 12H-2.3M-13.5 11H-3.9M-15.7 8.2H-6.1M-16.7 6H-7.1M-17.6 1.8H-8M-17.7 -0.9H-8.1M-17 -5.2H-7.4M-16.1 -7.5H-6.5M-14 -10.5H-4.4M-12.4 -11.7H-2.8" stroke="#1f1f1f" stroke-width="1.2"/><polygon points="0,-12.5 0.8,-12.4 1.5,-12.3 1.8,-9.6 2.4,-9.3 3,-8.9 4.4,-10.5 5,-9.8 5.6,-9 4.9,-6.5 5.3,-5.8 5.6,-5 7.4,-5.2 7.7,-4.1 7.9,-2.9 6.4,-1.4 6.5,-0.5 6.5,0.5 8,1.8 7.9,2.9 7.7,4.1 5.9,4.2 5.6,5 5.3,5.8 6.1,8.2 5.6,9 5,9.8 3.5,8.4 3,8.9 2.4,9.3 2.3,12 1.5,12.3 0.8,12.4 0,10 -0.6,10 -1.2,9.8 -2.3,12 -3,11.6 -3.7,11.1 -3.5,8.4 -4,7.9 -4.5,7.2 -6.1,8.2 -6.6,7.3 -7,6.3 -5.9,4.2 -6.1,3.3 -6.3,2.4 -8,1.8 -8.1,0.6 -8.1,-0.6 -6.4,-1.4 -6.3,-2.4 -6.1,-3.3 -7.4,-5.2 -7,-6.3 -6.6,-7.3 -4.9,-6.5 -4.5,-7.2 -4,-7.9 -4.4,-10.5 -3.7,-11.1 -3,-11.6 -1.8,-9.6 -1.2,-9.8 -0.6,-10 0,-12.5" fill="#f7f6ee" stroke="#1f1f1f" stroke-width="1.4" stroke-linejoin="round"/></g>
<g transform="translate(706 183) rotate(19)"><path d="M-40 -8.5 L0 -8.5 A5.5 8.5 0 0 1 0 8.5 L-40 8.5 A5.5 8.5 0 0 1 -40 -8.5 Z" fill="#f7f6ee" stroke="#1f1f1f" stroke-width="1.3" stroke-linejoin="round"/><ellipse cx="0" cy="0" rx="5.5" ry="8.5" fill="none" stroke="#1f1f1f" stroke-width="1.3"/></g>
<g transform="translate(720 188) rotate(19)"><path d="M-16 -6.5 L0 -6.5 A4.2 6.5 0 0 1 0 6.5 L-16 6.5 A4.2 6.5 0 0 1 -16 -6.5 Z" fill="#f7f6ee" stroke="#1f1f1f" stroke-width="1.3" stroke-linejoin="round"/><ellipse cx="0" cy="0" rx="4.2" ry="6.5" fill="none" stroke="#1f1f1f" stroke-width="1.3"/></g>
<text x="674" y="181" font-family="Liberation Sans" font-style="italic" font-size="6.5" fill="#333" transform="rotate(20 674 181)">eHe 8 1</text>
<g transform="translate(720 188) rotate(19)"><path d="M-14 -6.5V6.5M-11.6 -6.5V6.5M-9.2 -6.5V6.5M-6.8 -6.5V6.5M-4.4 -6.5V6.5M-2 -6.5V6.5" stroke="#1f1f1f" stroke-width="0.8"/></g>
<g transform="translate(755.8 202.4) rotate(20)"><path d="M-10 -22.7 L0 -22.7 A15.9 22.7 0 0 1 0 22.7 L-10 22.7 A15.9 22.7 0 0 1 -10 -22.7 Z" fill="#f7f6ee" stroke="#2c2c2c" stroke-width="1.2" stroke-linejoin="round"/><ellipse cx="0" cy="0" rx="15.9" ry="22.7" fill="none" stroke="#2c2c2c" stroke-width="1.2"/><ellipse cx="0" cy="0" rx="13" ry="18.6" fill="none" stroke="#2c2c2c" stroke-width="1"/><ellipse cx="0" cy="0" rx="7.5" ry="10.7" fill="none" stroke="#2c2c2c" stroke-width="1"/><ellipse cx="0" cy="0" rx="5.9" ry="8.4" fill="none" stroke="#2c2c2c" stroke-width="1.1"/></g>
<g transform="translate(755.8 202.4) rotate(20)"><ellipse cx="2" cy="-14.3" rx="1.9" ry="2.5" fill="none" stroke="#555" stroke-width="0.7"/><ellipse cx="7.6" cy="-9.9" rx="1.9" ry="2.5" fill="none" stroke="#555" stroke-width="0.7"/><ellipse cx="10.2" cy="-1.7" rx="1.9" ry="2.5" fill="none" stroke="#555" stroke-width="0.7"/><ellipse cx="8.9" cy="7.2" rx="1.9" ry="2.5" fill="none" stroke="#555" stroke-width="0.7"/><ellipse cx="4.3" cy="13.3" rx="1.9" ry="2.5" fill="none" stroke="#555" stroke-width="0.7"/><ellipse cx="-2" cy="14.3" rx="1.9" ry="2.5" fill="none" stroke="#555" stroke-width="0.7"/><ellipse cx="-7.6" cy="9.9" rx="1.9" ry="2.5" fill="none" stroke="#555" stroke-width="0.7"/><ellipse cx="-10.2" cy="1.7" rx="1.9" ry="2.5" fill="none" stroke="#555" stroke-width="0.7"/><ellipse cx="-8.9" cy="-7.2" rx="1.9" ry="2.5" fill="none" stroke="#555" stroke-width="0.7"/><ellipse cx="-4.3" cy="-13.3" rx="1.9" ry="2.5" fill="none" stroke="#555" stroke-width="0.7"/></g>
<path d="M373.7 187.5 C374.7 179.5 382.7 177 388.7 178.5 C394.7 180.5 397.7 188.5 396.2 195.5 C394.7 201.5 386.7 203.5 381.7 202 C373.7 199.5 372.7 194.5 373.7 187.5 Z" fill="#f7f6ee" stroke="#2c2c2c" stroke-width="1.1"/>
<ellipse cx="387.7" cy="191.5" rx="8" ry="11.2" fill="none" stroke="#2c2c2c" stroke-width="1" transform="rotate(18 387.7 191.5)"/>
<ellipse cx="386.2" cy="191.5" rx="3.4" ry="5.6" fill="#8e8d86" stroke="#2c2c2c" stroke-width="1" transform="rotate(18 386.2 191.5)"/>
<line x1="380.7" y1="179.5" x2="383.7" y2="188.5" stroke="#2c2c2c" stroke-width="0.8" stroke-linecap="round"/>
<line x1="383.7" y1="188.5" x2="374.7" y2="191.5" stroke="#2c2c2c" stroke-width="0.8" stroke-linecap="round"/>
<line x1="383.7" y1="194.5" x2="377.7" y2="200.5" stroke="#2c2c2c" stroke-width="0.8" stroke-linecap="round"/>
<ellipse cx="406" cy="198.6" rx="9.1" ry="11" fill="#f7f6ee" stroke="#2c2c2c" stroke-width="1.2" transform="rotate(18 406 198.6)"/>
<ellipse cx="407.2" cy="199" rx="9.1" ry="11" fill="#f7f6ee" stroke="#2c2c2c" stroke-width="1.2" transform="rotate(18 407.2 199)"/>
<ellipse cx="407.2" cy="199" rx="3.4" ry="5.6" fill="#f7f6ee" stroke="#2c2c2c" stroke-width="1.2" transform="rotate(18 407.2 199)"/>
<polygon points="450.6,186.4 451.3,185.6 452,184.9 452.6,184.5 453.1,184.3 453.6,184.3 454.1,184.4 454.5,184.6 455,184.9 455.3,185.3 455.6,185.8 455.8,186.6 455.9,187.5 455.8,188.7 455.7,189.9 455.6,191 455.5,192 455.6,192.7 455.7,193.1 456,193.4 456.5,193.4 457,193.3 457.8,192.9 458.7,192.4 459.6,191.9 460.5,191.4 461.3,191.2 462,191.2 462.5,191.3 462.9,191.6 463.3,192 463.6,192.4 463.8,192.9 464,193.5 464,194.1 463.9,194.9 463.6,195.9 463.1,196.9 462.5,198 462,199 461.6,199.8 461.3,200.5 461.3,201 461.5,201.4 461.8,201.7 462.4,201.9 463.1,202 464,202 465,202 466,202.1 466.7,202.4 467.3,202.7 467.7,203.2 467.9,203.7 468.1,204.2 468.1,204.8 468.2,205.4 468.1,206 467.9,206.7 467.4,207.3 466.8,208 466,208.7 465.1,209.4 464.3,210 463.6,210.6 463.2,211.1 462.9,211.6 462.9,212 463.1,212.5 463.5,213 464.1,213.5 464.8,214 465.7,214.6 466.4,215.3 466.9,215.9 467.3,216.6 467.4,217.2 467.4,217.8 467.3,218.4 467.2,219 467,219.5 466.7,220.1 466.3,220.6 465.6,221 464.8,221.2 463.9,221.4 462.9,221.6 462,221.7 461.2,221.8 460.6,222 460.2,222.3 460,222.8 460,223.3 460.2,224 460.5,224.8 460.9,225.7 461.4,226.8 461.7,227.8 461.9,228.7 462,229.5 461.9,230.2 461.6,230.7 461.3,231.2 461,231.7 460.6,232.1 460.1,232.4 459.6,232.6 458.9,232.7 458.1,232.5 457.3,232.1 456.4,231.7 455.6,231.2 454.9,230.9 454.3,230.8 453.9,230.9 453.5,231.2 453.3,231.6 453.2,232.4 453.1,233.3 453.1,234.4 453.1,235.6 453,236.8 452.8,237.8 452.6,238.5 452.2,239.1 451.8,239.5 451.3,239.8 450.9,240 450.4,240.2 449.9,240.2 449.3,240.1 448.8,239.8 448.2,239.2 447.6,238.3 447.1,237.4 446.5,236.5 446.1,235.9 445.6,235.4 445.2,235.2 444.9,235.3 444.5,235.6 444.1,236.2 443.7,237.1 443.3,238.1 442.8,239.2 442.3,240.3 441.7,241.1 441.2,241.7 440.7,242 440.2,242.1 439.7,242.1 439.2,242.1 438.8,242 438.3,241.7 437.9,241.3 437.6,240.7 437.3,239.7 437.2,238.6 437,237.5 436.9,236.3 436.8,235.4 436.6,234.8 436.4,234.4 436,234.3 435.6,234.3 435,234.7 434.4,235.2 433.6,236 432.8,236.7 431.9,237.4 431.2,237.9 430.5,238.1 430,238.1 429.5,238 429.1,237.7 428.7,237.4 428.4,237 428.1,236.5 427.9,235.9 427.9,235.1 428,234.1 428.3,233 428.7,231.8 429,230.7 429.2,229.8 429.3,229.1 429.2,228.6 429,228.2 428.6,228.1 428,228.1 427.3,228.2 426.3,228.5 425.3,228.7 424.4,228.9 423.6,228.9 423,228.7 422.5,228.4 422.1,228 421.9,227.5 421.7,227 421.6,226.5 421.5,225.9 421.6,225.2 421.9,224.4 422.4,223.6 423.1,222.7 423.8,221.8 424.5,220.9 425.1,220.2 425.4,219.6 425.5,219.1 425.5,218.6 425.2,218.3 424.7,217.9 424,217.6 423.2,217.3 422.2,217 421.4,216.6 420.7,216.2 420.2,215.7 419.9,215.1 419.8,214.5 419.8,213.9 419.8,213.3 419.9,212.7 420.1,212.1 420.5,211.6 421,211 421.7,210.5 422.6,210 423.6,209.6 424.5,209.3 425.2,208.9 425.8,208.5 426.1,208.1 426.2,207.7 426.1,207.1 425.8,206.6 425.4,205.9 424.8,205.1 424.1,204.3 423.5,203.4 423.1,202.6 423,201.9 422.9,201.2 423.1,200.6 423.3,200 423.5,199.5 423.8,199 424.2,198.5 424.7,198.2 425.4,198 426.2,197.9 427.1,198 428.1,198.2 429,198.3 429.8,198.4 430.3,198.4 430.8,198.2 431,197.8 431.2,197.3 431.2,196.6 431,195.7 430.8,194.6 430.6,193.5 430.4,192.3 430.4,191.4 430.5,190.5 430.8,189.9 431.1,189.4 431.5,189 431.9,188.6 432.4,188.3 432.9,188.2 433.4,188.1 434.1,188.3 434.8,188.7 435.5,189.3 436.3,190 436.9,190.7 437.5,191.2 438.1,191.5 438.5,191.5 438.9,191.3 439.2,190.9 439.4,190.3 439.7,189.3 439.9,188.2 440.2,187 440.5,185.9 440.8,185 441.2,184.3 441.7,183.8 442.1,183.5 442.6,183.4 443.1,183.3 443.6,183.3 444.1,183.4 444.6,183.6 445,184.2 445.5,184.9 445.9,185.9 446.2,187 446.5,188 446.8,188.9 447.2,189.4 447.5,189.7 447.9,189.7 448.3,189.5 448.8,189.1 449.3,188.3 449.9,187.4 450.6,186.4" fill="#f7f6ee" stroke="#2c2c2c" stroke-width="1" stroke-linejoin="round"/>
<polygon points="453.8,187 454.5,186.2 455.2,185.5 455.8,185.1 456.3,184.9 456.8,184.9 457.3,185 457.7,185.2 458.2,185.5 458.5,185.9 458.8,186.4 459,187.2 459.1,188.1 459,189.3 458.9,190.5 458.8,191.6 458.7,192.6 458.8,193.3 458.9,193.7 459.2,194 459.7,194 460.2,193.9 461,193.5 461.9,193 462.8,192.5 463.7,192 464.5,191.8 465.2,191.8 465.7,191.9 466.1,192.2 466.5,192.6 466.8,193 467,193.5 467.2,194.1 467.2,194.7 467.1,195.5 466.8,196.5 466.3,197.5 465.7,198.6 465.2,199.6 464.8,200.4 464.5,201.1 464.5,201.6 464.7,202 465,202.3 465.6,202.5 466.3,202.6 467.2,202.6 468.2,202.6 469.2,202.7 469.9,203 470.5,203.3 470.9,203.8 471.1,204.3 471.3,204.8 471.3,205.4 471.4,206 471.3,206.6 471.1,207.3 470.6,207.9 470,208.6 469.2,209.3 468.3,210 467.5,210.6 466.8,211.2 466.4,211.7 466.1,212.2 466.1,212.6 466.3,213.1 466.7,213.6 467.3,214.1 468,214.6 468.9,215.2 469.6,215.9 470.1,216.5 470.5,217.2 470.6,217.8 470.6,218.4 470.5,219 470.4,219.6 470.2,220.1 469.9,220.7 469.5,221.2 468.8,221.6 468,221.8 467.1,222 466.1,222.2 465.2,222.3 464.4,222.4 463.8,222.6 463.4,222.9 463.2,223.4 463.2,223.9 463.4,224.6 463.7,225.4 464.1,226.3 464.6,227.4 464.9,228.4 465.1,229.3 465.2,230.1 465.1,230.8 464.8,231.3 464.5,231.8 464.2,232.3 463.8,232.7 463.3,233 462.8,233.2 462.1,233.3 461.3,233.1 460.5,232.7 459.6,232.3 458.8,231.8 458.1,231.5 457.5,231.4 457.1,231.5 456.7,231.8 456.5,232.2 456.4,233 456.3,233.9 456.3,235 456.3,236.2 456.2,237.4 456,238.4 455.8,239.1 455.4,239.7 455,240.1 454.5,240.4 454.1,240.6 453.6,240.8 453.1,240.8 452.5,240.7 452,240.4 451.4,239.8 450.8,238.9 450.3,238 449.7,237.1 449.3,236.5 448.8,236 448.4,235.8 448.1,235.9 447.7,236.2 447.3,236.8 446.9,237.7 446.5,238.7 446,239.8 445.5,240.9 444.9,241.7 444.4,242.3 443.9,242.6 443.4,242.7 442.9,242.7 442.4,242.7 442,242.6 441.5,242.3 441.1,241.9 440.8,241.3 440.5,240.3 440.4,239.2 440.2,238.1 440.1,236.9 440,236 439.8,235.4 439.6,235 439.2,234.9 438.8,234.9 438.2,235.3 437.6,235.8 436.8,236.6 436,237.3 435.1,238 434.4,238.5 433.7,238.7 433.2,238.7 432.7,238.6 432.3,238.3 431.9,238 431.6,237.6 431.3,237.1 431.1,236.5 431.1,235.7 431.2,234.7 431.5,233.6 431.9,232.4 432.2,231.3 432.4,230.4 432.5,229.7 432.4,229.2 432.2,228.8 431.8,228.7 431.2,228.7 430.5,228.8 429.5,229.1 428.5,229.3 427.6,229.5 426.8,229.5 426.2,229.3 425.7,229 425.3,228.6 425.1,228.1 424.9,227.6 424.8,227.1 424.7,226.5 424.8,225.8 425.1,225 425.6,224.2 426.3,223.3 427,222.4 427.7,221.5 428.3,220.8 428.6,220.2 428.7,219.7 428.7,219.2 428.4,218.9 427.9,218.5 427.2,218.2 426.4,217.9 425.4,217.6 424.6,217.2 423.9,216.8 423.4,216.3 423.1,215.7 423,215.1 423,214.5 423,213.9 423.1,213.3 423.3,212.7 423.7,212.2 424.2,211.6 424.9,211.1 425.8,210.6 426.8,210.2 427.7,209.9 428.4,209.5 429,209.1 429.3,208.7 429.4,208.3 429.3,207.7 429,207.2 428.6,206.5 428,205.7 427.3,204.9 426.7,204 426.3,203.2 426.2,202.5 426.1,201.8 426.3,201.2 426.5,200.6 426.7,200.1 427,199.6 427.4,199.1 427.9,198.8 428.6,198.6 429.4,198.5 430.3,198.6 431.3,198.8 432.2,198.9 433,199 433.5,199 434,198.8 434.2,198.4 434.4,197.9 434.4,197.2 434.2,196.3 434,195.2 433.8,194.1 433.6,192.9 433.6,192 433.7,191.1 434,190.5 434.3,190 434.7,189.6 435.1,189.2 435.6,188.9 436.1,188.8 436.6,188.7 437.3,188.9 438,189.3 438.7,189.9 439.5,190.6 440.1,191.3 440.7,191.8 441.3,192.1 441.7,192.1 442.1,191.9 442.4,191.5 442.6,190.9 442.9,189.9 443.1,188.8 443.4,187.6 443.7,186.5 444,185.6 444.4,184.9 444.9,184.4 445.3,184.1 445.8,184 446.3,183.9 446.8,183.9 447.3,184 447.8,184.2 448.2,184.8 448.7,185.5 449.1,186.5 449.4,187.6 449.7,188.6 450,189.5 450.4,190 450.7,190.3 451.1,190.3 451.5,190.1 452,189.7 452.5,188.9 453.1,188 453.8,187" fill="#f7f6ee" stroke="#2c2c2c" stroke-width="1.2" stroke-linejoin="round"/>
<rect x="442.8" y="204.4" width="9" height="17.5" rx="4.5" fill="none" stroke="#2c2c2c" stroke-width="1.2" transform="rotate(22 447.3 213.2)"/>
<path d="M442.8 209.2 l2 -1 v14" fill="none" stroke="#2c2c2c" stroke-width="0.9" transform="rotate(22 447.3 213.2)"/>
<g transform="translate(488.5 229.5) rotate(20)"><path d="M-6 -15 L0 -15 A11.1 15 0 0 1 0 15 L-6 15 A11.1 15 0 0 1 -6 -15 Z" fill="#e9e8df" stroke="#2c2c2c" stroke-width="1.3" stroke-linejoin="round"/><ellipse cx="0" cy="0" rx="11.1" ry="15" fill="none" stroke="#2c2c2c" stroke-width="1.3"/><ellipse cx="0" cy="0" rx="9.2" ry="12.5" fill="none" stroke="#2c2c2c" stroke-width="1"/><ellipse cx="0" cy="0" rx="7.8" ry="10.5" fill="#dcdbd2" stroke="#2c2c2c" stroke-width="0.9"/><ellipse cx="0" cy="0" rx="6.3" ry="8.5" fill="#f7f6ee" stroke="#2c2c2c" stroke-width="1.2"/></g>
<g transform="translate(488.5 229.5) rotate(20)"><ellipse cx="-2.5" cy="0" rx="5.2" ry="8" fill="none" stroke="#2c2c2c" stroke-width="1"/></g>
<ellipse cx="514.9" cy="238.6" rx="17.5" ry="21.6" fill="#f7f6ee" stroke="#2c2c2c" stroke-width="1.2" transform="rotate(8 514.9 238.6)"/>
<ellipse cx="515.5" cy="238.8" rx="17.5" ry="21.6" fill="#f7f6ee" stroke="#2c2c2c" stroke-width="1.2" transform="rotate(8 515.5 238.8)"/>
<ellipse cx="515.5" cy="238.8" rx="8.5" ry="11.7" fill="#f7f6ee" stroke="#2c2c2c" stroke-width="1.2" transform="rotate(8 515.5 238.8)"/>
<g transform="translate(554.4 252) rotate(20)"><path d="M-14 -20.8 L0 -20.8 A14.6 20.8 0 0 1 0 20.8 L-14 20.8 A14.6 20.8 0 0 1 -14 -20.8 Z" fill="#f7f6ee" stroke="#2c2c2c" stroke-width="1.2" stroke-linejoin="round"/><ellipse cx="0" cy="0" rx="14.6" ry="20.8" fill="none" stroke="#2c2c2c" stroke-width="1.2"/><ellipse cx="0" cy="0" rx="11.9" ry="17.1" fill="none" stroke="#2c2c2c" stroke-width="1"/><ellipse cx="0" cy="0" rx="6.8" ry="9.8" fill="none" stroke="#2c2c2c" stroke-width="1"/><ellipse cx="0" cy="0" rx="5.4" ry="7.7" fill="none" stroke="#2c2c2c" stroke-width="1.1"/></g>
<g transform="translate(554.4 252) rotate(20)"><ellipse cx="1.9" cy="-13.1" rx="1.8" ry="2.3" fill="none" stroke="#555" stroke-width="0.7"/><ellipse cx="6.9" cy="-9.1" rx="1.8" ry="2.3" fill="none" stroke="#555" stroke-width="0.7"/><ellipse cx="9.3" cy="-1.5" rx="1.8" ry="2.3" fill="none" stroke="#555" stroke-width="0.7"/><ellipse cx="8.2" cy="6.6" rx="1.8" ry="2.3" fill="none" stroke="#555" stroke-width="0.7"/><ellipse cx="3.9" cy="12.2" rx="1.8" ry="2.3" fill="none" stroke="#555" stroke-width="0.7"/><ellipse cx="-1.9" cy="13.1" rx="1.8" ry="2.3" fill="none" stroke="#555" stroke-width="0.7"/><ellipse cx="-6.9" cy="9.1" rx="1.8" ry="2.3" fill="none" stroke="#555" stroke-width="0.7"/><ellipse cx="-9.3" cy="1.5" rx="1.8" ry="2.3" fill="none" stroke="#555" stroke-width="0.7"/><ellipse cx="-8.2" cy="-6.6" rx="1.8" ry="2.3" fill="none" stroke="#555" stroke-width="0.7"/><ellipse cx="-3.9" cy="-12.2" rx="1.8" ry="2.3" fill="none" stroke="#555" stroke-width="0.7"/></g>
<ellipse cx="579.8" cy="261.2" rx="11.5" ry="14" fill="#f7f6ee" stroke="#2c2c2c" stroke-width="1.2" transform="rotate(15 579.8 261.2)"/>
<ellipse cx="581" cy="261.6" rx="11.5" ry="14" fill="#f7f6ee" stroke="#2c2c2c" stroke-width="1.2" transform="rotate(15 581 261.6)"/>
<ellipse cx="581" cy="261.6" rx="6" ry="8.5" fill="#f7f6ee" stroke="#2c2c2c" stroke-width="1.2" transform="rotate(15 581 261.6)"/>
<g transform="translate(614 276) rotate(19)"><path d="M-14 -5 L0 -5 A3.2 5 0 0 1 0 5 L-14 5 A3.2 5 0 0 1 -14 -5 Z" fill="#f7f6ee" stroke="#1f1f1f" stroke-width="1.3" stroke-linejoin="round"/><ellipse cx="0" cy="0" rx="3.2" ry="5" fill="none" stroke="#1f1f1f" stroke-width="1.3"/></g>
<g transform="translate(614 276) rotate(19)"><path d="M-12 -5V5M-9.6 -5V5M-7.2 -5V5M-4.8 -5V5M-2.4 -5V5" stroke="#1f1f1f" stroke-width="0.8"/></g>
<g transform="translate(619 278) rotate(19)"><path d="M-4 -7 L0 -7 A4.5 7 0 0 1 0 7 L-4 7 A4.5 7 0 0 1 -4 -7 Z" fill="#f7f6ee" stroke="#1f1f1f" stroke-width="1.3" stroke-linejoin="round"/><ellipse cx="0" cy="0" rx="4.5" ry="7" fill="none" stroke="#1f1f1f" stroke-width="1.3"/></g>
<g transform="translate(645 287) rotate(19)"><path d="M-28 -8.5 L0 -8.5 A5.5 8.5 0 0 1 0 8.5 L-28 8.5 A5.5 8.5 0 0 1 -28 -8.5 Z" fill="#f7f6ee" stroke="#1f1f1f" stroke-width="1.3" stroke-linejoin="round"/><ellipse cx="0" cy="0" rx="5.5" ry="8.5" fill="none" stroke="#1f1f1f" stroke-width="1.3"/></g>
<g transform="translate(658 288.8) rotate(19)"><polygon points="-10,-23 -9.3,-23 -8.6,-22.9 -8.1,-19.8 -7.5,-19.6 -6.9,-19.4 -5.8,-22.1 -5.1,-21.7 -4.4,-21.4 -4.6,-18.2 -4,-17.8 -3.5,-17.3 -1.9,-19.3 -1.3,-18.7 -0.8,-18.1 -1.5,-15.1 -1,-14.5 -0.6,-13.8 1.3,-15.1 1.8,-14.2 2.2,-13.3 0.9,-10.8 1.3,-10 1.6,-9.2 3.6,-9.6 3.9,-8.5 4.1,-7.5 2.5,-5.6 2.6,-4.7 2.8,-3.8 4.8,-3.3 4.9,-2.2 4.9,-1.1 3,0 3,1 2.9,1.9 4.8,3.3 4.7,4.4 4.5,5.4 2.5,5.6 2.3,6.5 2.1,7.4 3.6,9.6 3.3,10.5 2.9,11.5 0.9,10.8 0.6,11.6 0.2,12.4 1.3,15.1 0.8,15.9 0.3,16.6 -1.5,15.1 -2,15.7 -2.5,16.3 -1.9,19.3 -2.5,19.9 -3.1,20.4 -4.6,18.2 -5.2,18.6 -5.7,18.9 -5.8,22.1 -6.5,22.4 -7.2,22.6 -8.1,19.8 -8.8,19.9 -9.4,20 -10,23 -10.7,23 -11.4,22.9 -11.9,19.8 -12.5,19.6 -13.1,19.4 -14.2,22.1 -14.9,21.7 -15.6,21.4 -15.4,18.2 -16,17.8 -16.5,17.3 -18.1,19.3 -18.7,18.7 -19.2,18.1 -18.5,15.1 -19,14.5 -19.4,13.8 -21.3,15.1 -21.8,14.2 -22.2,13.3 -20.9,10.8 -21.3,10 -21.6,9.2 -23.6,9.6 -23.9,8.5 -24.1,7.5 -22.5,5.6 -22.6,4.7 -22.8,3.8 -24.8,3.3 -24.9,2.2 -24.9,1.1 -23,0 -23,-1 -22.9,-1.9 -24.8,-3.3 -24.7,-4.4 -24.5,-5.4 -22.5,-5.6 -22.3,-6.5 -22.1,-7.4 -23.6,-9.6 -23.3,-10.5 -22.9,-11.5 -20.9,-10.8 -20.6,-11.6 -20.2,-12.4 -21.3,-15.1 -20.8,-15.9 -20.3,-16.6 -18.5,-15.1 -18,-15.7 -17.5,-16.3 -18.1,-19.3 -17.5,-19.9 -16.9,-20.4 -15.4,-18.2 -14.8,-18.6 -14.3,-18.9 -14.2,-22.1 -13.5,-22.4 -12.8,-22.6 -11.9,-19.8 -11.2,-19.9 -10.6,-20 -10,-23" fill="#f7f6ee"/><rect x="-10" y="-20" width="10" height="40" fill="#f7f6ee"/><polygon points="-11.9,19.8 -1.9,19.8 -3.2,19.4 -13.2,19.4" fill="#a9a8a0"/><polygon points="-15.4,18.2 -5.4,18.2 -6.7,17.2 -16.7,17.2" fill="#a9a8a0"/><polygon points="-18.5,15.1 -8.5,15.1 -9.5,13.6 -19.5,13.6" fill="#a9a8a0"/><polygon points="-20.9,10.8 -10.9,10.8 -11.6,8.9 -21.6,8.9" fill="#a9a8a0"/><polygon points="-22.5,5.6 -12.5,5.6 -12.8,3.5 -22.8,3.5" fill="#a9a8a0"/><polygon points="-23,0 -13,0 -12.9,-2.2 -22.9,-2.2" fill="#a9a8a0"/><polygon points="-22.5,-5.6 -12.5,-5.6 -12,-7.7 -22,-7.7" fill="#a9a8a0"/><polygon points="-20.9,-10.8 -10.9,-10.8 -10.1,-12.6 -20.1,-12.6" fill="#a9a8a0"/><polygon points="-18.5,-15.1 -8.5,-15.1 -7.4,-16.5 -17.4,-16.5" fill="#a9a8a0"/><polygon points="-15.4,-18.2 -5.4,-18.2 -4.1,-19 -14.1,-19" fill="#a9a8a0"/><polyline points="-10,23 -10.7,23 -11.4,22.9 -11.9,19.8 -12.5,19.6 -13.1,19.4 -14.2,22.1 -14.9,21.7 -15.6,21.4 -15.4,18.2 -16,17.8 -16.5,17.3 -18.1,19.3 -18.7,18.7 -19.2,18.1 -18.5,15.1 -19,14.5 -19.4,13.8 -21.3,15.1 -21.8,14.2 -22.2,13.3 -20.9,10.8 -21.3,10 -21.6,9.2 -23.6,9.6 -23.9,8.5 -24.1,7.5 -22.5,5.6 -22.6,4.7 -22.8,3.8 -24.8,3.3 -24.9,2.2 -24.9,1.1 -23,0 -23,-1 -22.9,-1.9 -24.8,-3.3 -24.7,-4.4 -24.5,-5.4 -22.5,-5.6 -22.3,-6.5 -22.1,-7.4 -23.6,-9.6 -23.3,-10.5 -22.9,-11.5 -20.9,-10.8 -20.6,-11.6 -20.2,-12.4 -21.3,-15.1 -20.8,-15.9 -20.3,-16.6 -18.5,-15.1 -18,-15.7 -17.5,-16.3 -18.1,-19.3 -17.5,-19.9 -16.9,-20.4 -15.4,-18.2 -14.8,-18.6 -14.3,-18.9 -14.2,-22.1 -13.5,-22.4 -12.8,-22.6 -11.9,-19.8 -11.2,-19.9 -10.6,-20 -10,-23" fill="none" stroke="#1f1f1f" stroke-width="1.4" stroke-linejoin="round"/><path d="M-11.6 22.9H-1.6M-14.2 22.1H-4.2M-15.7 21.2H-5.7M-18.1 19.3H-8.1M-19.4 17.9H-9.4M-21.3 15.1H-11.3M-22.3 13.1H-12.3M-23.6 9.6H-13.6M-24.2 7.2H-14.2M-24.8 3.3H-14.8M-24.9 0.8H-14.9M-24.8 -3.3H-14.8M-24.5 -5.7H-14.5M-23.6 -9.6H-13.6M-22.8 -11.8H-12.8M-21.3 -15.1H-11.3M-20.2 -16.9H-10.2M-18.1 -19.3H-8.1M-16.7 -20.6H-6.7M-14.2 -22.1H-4.2M-12.6 -22.6H-2.6" stroke="#1f1f1f" stroke-width="1.2"/><polygon points="0,-23 0.7,-23 1.4,-22.9 1.9,-19.8 2.5,-19.6 3.1,-19.4 4.2,-22.1 4.9,-21.7 5.6,-21.4 5.4,-18.2 6,-17.8 6.5,-17.3 8.1,-19.3 8.7,-18.7 9.2,-18.1 8.5,-15.1 9,-14.5 9.4,-13.8 11.3,-15.1 11.8,-14.2 12.2,-13.3 10.9,-10.8 11.3,-10 11.6,-9.2 13.6,-9.6 13.9,-8.5 14.1,-7.5 12.5,-5.6 12.6,-4.7 12.8,-3.8 14.8,-3.3 14.9,-2.2 14.9,-1.1 13,0 13,1 12.9,1.9 14.8,3.3 14.7,4.4 14.5,5.4 12.5,5.6 12.3,6.5 12.1,7.4 13.6,9.6 13.3,10.5 12.9,11.5 10.9,10.8 10.6,11.6 10.2,12.4 11.3,15.1 10.8,15.9 10.3,16.6 8.5,15.1 8,15.7 7.5,16.3 8.1,19.3 7.5,19.9 6.9,20.4 5.4,18.2 4.8,18.6 4.3,18.9 4.2,22.1 3.5,22.4 2.8,22.6 1.9,19.8 1.2,19.9 0.6,20 0,23 -0.7,23 -1.4,22.9 -1.9,19.8 -2.5,19.6 -3.1,19.4 -4.2,22.1 -4.9,21.7 -5.6,21.4 -5.4,18.2 -6,17.8 -6.5,17.3 -8.1,19.3 -8.7,18.7 -9.2,18.1 -8.5,15.1 -9,14.5 -9.4,13.8 -11.3,15.1 -11.8,14.2 -12.2,13.3 -10.9,10.8 -11.3,10 -11.6,9.2 -13.6,9.6 -13.9,8.5 -14.1,7.5 -12.5,5.6 -12.6,4.7 -12.8,3.8 -14.8,3.3 -14.9,2.2 -14.9,1.1 -13,0 -13,-1 -12.9,-1.9 -14.8,-3.3 -14.7,-4.4 -14.5,-5.4 -12.5,-5.6 -12.3,-6.5 -12.1,-7.4 -13.6,-9.6 -13.3,-10.5 -12.9,-11.5 -10.9,-10.8 -10.6,-11.6 -10.2,-12.4 -11.3,-15.1 -10.8,-15.9 -10.3,-16.6 -8.5,-15.1 -8,-15.7 -7.5,-16.3 -8.1,-19.3 -7.5,-19.9 -6.9,-20.4 -5.4,-18.2 -4.8,-18.6 -4.3,-18.9 -4.2,-22.1 -3.5,-22.4 -2.8,-22.6 -1.9,-19.8 -1.2,-19.9 -0.6,-20 0,-23" fill="#f7f6ee" stroke="#1f1f1f" stroke-width="1.4" stroke-linejoin="round"/></g>
<g transform="translate(666 292.3) rotate(19)"><path d="M-6 -23 L0 -23 A13.8 23 0 0 1 0 23 L-6 23 A13.8 23 0 0 1 -6 -23 Z" fill="#f7f6ee" stroke="#1f1f1f" stroke-width="1.3" stroke-linejoin="round"/><ellipse cx="0" cy="0" rx="13.8" ry="23" fill="none" stroke="#1f1f1f" stroke-width="1.3"/><ellipse cx="0" cy="0" rx="12.3" ry="20.5" fill="none" stroke="#1f1f1f" stroke-width="1.1"/><ellipse cx="0" cy="0" rx="4.8" ry="8" fill="none" stroke="#1f1f1f" stroke-width="1"/></g>
<ellipse cx="665.3" cy="279.8" rx="2.6" ry="3" fill="none" stroke="#1f1f1f" stroke-width="1.1"/>
<ellipse cx="669.7" cy="302.3" rx="2.6" ry="3" fill="none" stroke="#1f1f1f" stroke-width="1.1"/>
<g transform="translate(688.8 302.3) rotate(19)"><polygon points="-7,-28 -6.2,-28 -5.4,-27.9 -4.9,-24.2 -4.3,-24 -3.6,-23.8 -2.3,-27 -1.5,-26.7 -0.8,-26.3 -0.9,-22.5 -0.3,-22.1 0.3,-21.6 2.1,-24.2 2.8,-23.6 3.4,-22.9 2.6,-19.3 3.2,-18.7 3.7,-18 5.9,-19.8 6.4,-18.9 6.9,-18 5.6,-14.8 6,-14 6.4,-13.1 8.8,-14 9.1,-12.9 9.5,-11.8 7.6,-9.3 7.9,-8.3 8.1,-7.3 10.6,-7.2 10.8,-6.1 10.9,-4.9 8.7,-3.2 8.8,-2.1 8.8,-1.1 11.2,0 11.2,1.2 11.1,2.4 8.7,3.2 8.6,4.2 8.5,5.3 10.6,7.2 10.4,8.4 10.1,9.6 7.6,9.3 7.4,10.3 7,11.2 8.8,14 8.3,15 7.9,16.1 5.6,14.8 5.1,15.7 4.7,16.5 5.9,19.8 5.3,20.6 4.7,21.4 2.6,19.3 2.1,20 1.5,20.5 2.1,24.2 1.4,24.8 0.7,25.4 -0.9,22.5 -1.6,22.9 -2.2,23.2 -2.3,27 -3.1,27.3 -3.8,27.6 -4.9,24.2 -5.6,24.3 -6.3,24.3 -7,28 -7.8,28 -8.6,27.9 -9.1,24.2 -9.7,24 -10.4,23.8 -11.7,27 -12.5,26.7 -13.2,26.3 -13.1,22.5 -13.7,22.1 -14.3,21.6 -16.1,24.2 -16.8,23.6 -17.4,22.9 -16.6,19.3 -17.2,18.7 -17.7,18 -19.9,19.8 -20.4,18.9 -20.9,18 -19.6,14.8 -20,14 -20.4,13.1 -22.8,14 -23.1,12.9 -23.5,11.8 -21.6,9.3 -21.9,8.3 -22.1,7.3 -24.6,7.2 -24.8,6.1 -24.9,4.9 -22.7,3.2 -22.8,2.1 -22.8,1.1 -25.2,0 -25.2,-1.2 -25.1,-2.4 -22.7,-3.2 -22.6,-4.2 -22.5,-5.3 -24.6,-7.2 -24.4,-8.4 -24.1,-9.6 -21.6,-9.3 -21.4,-10.3 -21,-11.2 -22.8,-14 -22.3,-15 -21.9,-16.1 -19.6,-14.8 -19.1,-15.7 -18.7,-16.5 -19.9,-19.8 -19.3,-20.6 -18.7,-21.4 -16.6,-19.3 -16.1,-20 -15.5,-20.5 -16.1,-24.2 -15.4,-24.8 -14.7,-25.4 -13.1,-22.5 -12.4,-22.9 -11.8,-23.2 -11.7,-27 -10.9,-27.3 -10.2,-27.6 -9.1,-24.2 -8.4,-24.3 -7.7,-24.3 -7,-28" fill="#f7f6ee"/><rect x="-7" y="-24.4" width="7" height="48.7" fill="#f7f6ee"/><polygon points="-9.1,24.2 -2.1,24.2 -3.6,23.7 -10.6,23.7" fill="#a9a8a0"/><polygon points="-13.1,22.5 -6.1,22.5 -7.5,21.5 -14.5,21.5" fill="#a9a8a0"/><polygon points="-16.6,19.3 -9.6,19.3 -10.8,17.8 -17.8,17.8" fill="#a9a8a0"/><polygon points="-19.6,14.8 -12.6,14.8 -13.5,12.8 -20.5,12.8" fill="#a9a8a0"/><polygon points="-21.6,9.3 -14.6,9.3 -15.2,7 -22.2,7" fill="#a9a8a0"/><polygon points="-22.7,3.2 -15.7,3.2 -15.8,0.8 -22.8,0.8" fill="#a9a8a0"/><polygon points="-22.7,-3.2 -15.7,-3.2 -15.4,-5.6 -22.4,-5.6" fill="#a9a8a0"/><polygon points="-21.6,-9.3 -14.6,-9.3 -14,-11.5 -21,-11.5" fill="#a9a8a0"/><polygon points="-19.6,-14.8 -12.6,-14.8 -11.5,-16.7 -18.5,-16.7" fill="#a9a8a0"/><polygon points="-16.6,-19.3 -9.6,-19.3 -8.3,-20.7 -15.3,-20.7" fill="#a9a8a0"/><polygon points="-13.1,-22.5 -6.1,-22.5 -4.6,-23.3 -11.6,-23.3" fill="#a9a8a0"/><polyline points="-7,28 -7.8,28 -8.6,27.9 -9.1,24.2 -9.7,24 -10.4,23.8 -11.7,27 -12.5,26.7 -13.2,26.3 -13.1,22.5 -13.7,22.1 -14.3,21.6 -16.1,24.2 -16.8,23.6 -17.4,22.9 -16.6,19.3 -17.2,18.7 -17.7,18 -19.9,19.8 -20.4,18.9 -20.9,18 -19.6,14.8 -20,14 -20.4,13.1 -22.8,14 -23.1,12.9 -23.5,11.8 -21.6,9.3 -21.9,8.3 -22.1,7.3 -24.6,7.2 -24.8,6.1 -24.9,4.9 -22.7,3.2 -22.8,2.1 -22.8,1.1 -25.2,0 -25.2,-1.2 -25.1,-2.4 -22.7,-3.2 -22.6,-4.2 -22.5,-5.3 -24.6,-7.2 -24.4,-8.4 -24.1,-9.6 -21.6,-9.3 -21.4,-10.3 -21,-11.2 -22.8,-14 -22.3,-15 -21.9,-16.1 -19.6,-14.8 -19.1,-15.7 -18.7,-16.5 -19.9,-19.8 -19.3,-20.6 -18.7,-21.4 -16.6,-19.3 -16.1,-20 -15.5,-20.5 -16.1,-24.2 -15.4,-24.8 -14.7,-25.4 -13.1,-22.5 -12.4,-22.9 -11.8,-23.2 -11.7,-27 -10.9,-27.3 -10.2,-27.6 -9.1,-24.2 -8.4,-24.3 -7.7,-24.3 -7,-28" fill="none" stroke="#1f1f1f" stroke-width="1.4" stroke-linejoin="round"/><path d="M-8.8 27.9H-1.8M-11.7 27H-4.7M-13.4 26.2H-6.4M-16.1 24.2H-9.1M-17.6 22.7H-10.6M-19.9 19.8H-12.9M-21.1 17.7H-14.1M-22.8 14H-15.8M-23.6 11.5H-16.6M-24.6 7.2H-17.6M-25 4.5H-18M-25.2 0H-18.2M-25.1 -2.8H-18.1M-24.6 -7.2H-17.6M-24 -9.9H-17M-22.8 -14H-15.8M-21.8 -16.3H-14.8M-19.9 -19.8H-12.9M-18.5 -21.7H-11.5M-16.1 -24.2H-9.1M-14.5 -25.5H-7.5M-11.7 -27H-4.7M-9.9 -27.6H-2.9" stroke="#1f1f1f" stroke-width="1.2"/><polygon points="0,-28 0.8,-28 1.6,-27.9 2.1,-24.2 2.7,-24 3.4,-23.8 4.7,-27 5.5,-26.7 6.2,-26.3 6.1,-22.5 6.7,-22.1 7.3,-21.6 9.1,-24.2 9.8,-23.6 10.4,-22.9 9.6,-19.3 10.2,-18.7 10.7,-18 12.9,-19.8 13.4,-18.9 13.9,-18 12.6,-14.8 13,-14 13.4,-13.1 15.8,-14 16.1,-12.9 16.5,-11.8 14.6,-9.3 14.9,-8.3 15.1,-7.3 17.6,-7.2 17.8,-6.1 17.9,-4.9 15.7,-3.2 15.8,-2.1 15.8,-1.1 18.2,0 18.2,1.2 18.1,2.4 15.7,3.2 15.6,4.2 15.5,5.3 17.6,7.2 17.4,8.4 17.1,9.6 14.6,9.3 14.4,10.3 14,11.2 15.8,14 15.3,15 14.9,16.1 12.6,14.8 12.1,15.7 11.7,16.5 12.9,19.8 12.3,20.6 11.7,21.4 9.6,19.3 9.1,20 8.5,20.5 9.1,24.2 8.4,24.8 7.7,25.4 6.1,22.5 5.4,22.9 4.8,23.2 4.7,27 3.9,27.3 3.2,27.6 2.1,24.2 1.4,24.3 0.7,24.3 0,28 -0.8,28 -1.6,27.9 -2.1,24.2 -2.7,24 -3.4,23.8 -4.7,27 -5.5,26.7 -6.2,26.3 -6.1,22.5 -6.7,22.1 -7.3,21.6 -9.1,24.2 -9.8,23.6 -10.4,22.9 -9.6,19.3 -10.2,18.7 -10.7,18 -12.9,19.8 -13.4,18.9 -13.9,18 -12.6,14.8 -13,14 -13.4,13.1 -15.8,14 -16.1,12.9 -16.5,11.8 -14.6,9.3 -14.9,8.3 -15.1,7.3 -17.6,7.2 -17.8,6.1 -17.9,4.9 -15.7,3.2 -15.8,2.1 -15.8,1.1 -18.2,0 -18.2,-1.2 -18.1,-2.4 -15.7,-3.2 -15.6,-4.2 -15.5,-5.3 -17.6,-7.2 -17.4,-8.4 -17.1,-9.6 -14.6,-9.3 -14.4,-10.3 -14,-11.2 -15.8,-14 -15.3,-15 -14.9,-16.1 -12.6,-14.8 -12.1,-15.7 -11.7,-16.5 -12.9,-19.8 -12.3,-20.6 -11.7,-21.4 -9.6,-19.3 -9.1,-20 -8.5,-20.5 -9.1,-24.2 -8.4,-24.8 -7.7,-25.4 -6.1,-22.5 -5.4,-22.9 -4.8,-23.2 -4.7,-27 -3.9,-27.3 -3.2,-27.6 -2.1,-24.2 -1.4,-24.3 -0.7,-24.3 0,-28" fill="#f7f6ee" stroke="#1f1f1f" stroke-width="1.4" stroke-linejoin="round"/></g>
<g transform="translate(695.4 304.6) rotate(19)"><polygon points="-7,-28 -6.2,-28 -5.4,-27.9 -4.9,-24.2 -4.3,-24 -3.6,-23.8 -2.3,-27 -1.5,-26.7 -0.8,-26.3 -0.9,-22.5 -0.3,-22.1 0.3,-21.6 2.1,-24.2 2.8,-23.6 3.4,-22.9 2.6,-19.3 3.2,-18.7 3.7,-18 5.9,-19.8 6.4,-18.9 6.9,-18 5.6,-14.8 6,-14 6.4,-13.1 8.8,-14 9.1,-12.9 9.5,-11.8 7.6,-9.3 7.9,-8.3 8.1,-7.3 10.6,-7.2 10.8,-6.1 10.9,-4.9 8.7,-3.2 8.8,-2.1 8.8,-1.1 11.2,0 11.2,1.2 11.1,2.4 8.7,3.2 8.6,4.2 8.5,5.3 10.6,7.2 10.4,8.4 10.1,9.6 7.6,9.3 7.4,10.3 7,11.2 8.8,14 8.3,15 7.9,16.1 5.6,14.8 5.1,15.7 4.7,16.5 5.9,19.8 5.3,20.6 4.7,21.4 2.6,19.3 2.1,20 1.5,20.5 2.1,24.2 1.4,24.8 0.7,25.4 -0.9,22.5 -1.6,22.9 -2.2,23.2 -2.3,27 -3.1,27.3 -3.8,27.6 -4.9,24.2 -5.6,24.3 -6.3,24.3 -7,28 -7.8,28 -8.6,27.9 -9.1,24.2 -9.7,24 -10.4,23.8 -11.7,27 -12.5,26.7 -13.2,26.3 -13.1,22.5 -13.7,22.1 -14.3,21.6 -16.1,24.2 -16.8,23.6 -17.4,22.9 -16.6,19.3 -17.2,18.7 -17.7,18 -19.9,19.8 -20.4,18.9 -20.9,18 -19.6,14.8 -20,14 -20.4,13.1 -22.8,14 -23.1,12.9 -23.5,11.8 -21.6,9.3 -21.9,8.3 -22.1,7.3 -24.6,7.2 -24.8,6.1 -24.9,4.9 -22.7,3.2 -22.8,2.1 -22.8,1.1 -25.2,0 -25.2,-1.2 -25.1,-2.4 -22.7,-3.2 -22.6,-4.2 -22.5,-5.3 -24.6,-7.2 -24.4,-8.4 -24.1,-9.6 -21.6,-9.3 -21.4,-10.3 -21,-11.2 -22.8,-14 -22.3,-15 -21.9,-16.1 -19.6,-14.8 -19.1,-15.7 -18.7,-16.5 -19.9,-19.8 -19.3,-20.6 -18.7,-21.4 -16.6,-19.3 -16.1,-20 -15.5,-20.5 -16.1,-24.2 -15.4,-24.8 -14.7,-25.4 -13.1,-22.5 -12.4,-22.9 -11.8,-23.2 -11.7,-27 -10.9,-27.3 -10.2,-27.6 -9.1,-24.2 -8.4,-24.3 -7.7,-24.3 -7,-28" fill="#f7f6ee"/><rect x="-7" y="-24.4" width="7" height="48.7" fill="#f7f6ee"/><polygon points="-9.1,24.2 -2.1,24.2 -3.6,23.7 -10.6,23.7" fill="#a9a8a0"/><polygon points="-13.1,22.5 -6.1,22.5 -7.5,21.5 -14.5,21.5" fill="#a9a8a0"/><polygon points="-16.6,19.3 -9.6,19.3 -10.8,17.8 -17.8,17.8" fill="#a9a8a0"/><polygon points="-19.6,14.8 -12.6,14.8 -13.5,12.8 -20.5,12.8" fill="#a9a8a0"/><polygon points="-21.6,9.3 -14.6,9.3 -15.2,7 -22.2,7" fill="#a9a8a0"/><polygon points="-22.7,3.2 -15.7,3.2 -15.8,0.8 -22.8,0.8" fill="#a9a8a0"/><polygon points="-22.7,-3.2 -15.7,-3.2 -15.4,-5.6 -22.4,-5.6" fill="#a9a8a0"/><polygon points="-21.6,-9.3 -14.6,-9.3 -14,-11.5 -21,-11.5" fill="#a9a8a0"/><polygon points="-19.6,-14.8 -12.6,-14.8 -11.5,-16.7 -18.5,-16.7" fill="#a9a8a0"/><polygon points="-16.6,-19.3 -9.6,-19.3 -8.3,-20.7 -15.3,-20.7" fill="#a9a8a0"/><polygon points="-13.1,-22.5 -6.1,-22.5 -4.6,-23.3 -11.6,-23.3" fill="#a9a8a0"/><polyline points="-7,28 -7.8,28 -8.6,27.9 -9.1,24.2 -9.7,24 -10.4,23.8 -11.7,27 -12.5,26.7 -13.2,26.3 -13.1,22.5 -13.7,22.1 -14.3,21.6 -16.1,24.2 -16.8,23.6 -17.4,22.9 -16.6,19.3 -17.2,18.7 -17.7,18 -19.9,19.8 -20.4,18.9 -20.9,18 -19.6,14.8 -20,14 -20.4,13.1 -22.8,14 -23.1,12.9 -23.5,11.8 -21.6,9.3 -21.9,8.3 -22.1,7.3 -24.6,7.2 -24.8,6.1 -24.9,4.9 -22.7,3.2 -22.8,2.1 -22.8,1.1 -25.2,0 -25.2,-1.2 -25.1,-2.4 -22.7,-3.2 -22.6,-4.2 -22.5,-5.3 -24.6,-7.2 -24.4,-8.4 -24.1,-9.6 -21.6,-9.3 -21.4,-10.3 -21,-11.2 -22.8,-14 -22.3,-15 -21.9,-16.1 -19.6,-14.8 -19.1,-15.7 -18.7,-16.5 -19.9,-19.8 -19.3,-20.6 -18.7,-21.4 -16.6,-19.3 -16.1,-20 -15.5,-20.5 -16.1,-24.2 -15.4,-24.8 -14.7,-25.4 -13.1,-22.5 -12.4,-22.9 -11.8,-23.2 -11.7,-27 -10.9,-27.3 -10.2,-27.6 -9.1,-24.2 -8.4,-24.3 -7.7,-24.3 -7,-28" fill="none" stroke="#1f1f1f" stroke-width="1.4" stroke-linejoin="round"/><path d="M-8.8 27.9H-1.8M-11.7 27H-4.7M-13.4 26.2H-6.4M-16.1 24.2H-9.1M-17.6 22.7H-10.6M-19.9 19.8H-12.9M-21.1 17.7H-14.1M-22.8 14H-15.8M-23.6 11.5H-16.6M-24.6 7.2H-17.6M-25 4.5H-18M-25.2 0H-18.2M-25.1 -2.8H-18.1M-24.6 -7.2H-17.6M-24 -9.9H-17M-22.8 -14H-15.8M-21.8 -16.3H-14.8M-19.9 -19.8H-12.9M-18.5 -21.7H-11.5M-16.1 -24.2H-9.1M-14.5 -25.5H-7.5M-11.7 -27H-4.7M-9.9 -27.6H-2.9" stroke="#1f1f1f" stroke-width="1.2"/><polygon points="0,-28 0.8,-28 1.6,-27.9 2.1,-24.2 2.7,-24 3.4,-23.8 4.7,-27 5.5,-26.7 6.2,-26.3 6.1,-22.5 6.7,-22.1 7.3,-21.6 9.1,-24.2 9.8,-23.6 10.4,-22.9 9.6,-19.3 10.2,-18.7 10.7,-18 12.9,-19.8 13.4,-18.9 13.9,-18 12.6,-14.8 13,-14 13.4,-13.1 15.8,-14 16.1,-12.9 16.5,-11.8 14.6,-9.3 14.9,-8.3 15.1,-7.3 17.6,-7.2 17.8,-6.1 17.9,-4.9 15.7,-3.2 15.8,-2.1 15.8,-1.1 18.2,0 18.2,1.2 18.1,2.4 15.7,3.2 15.6,4.2 15.5,5.3 17.6,7.2 17.4,8.4 17.1,9.6 14.6,9.3 14.4,10.3 14,11.2 15.8,14 15.3,15 14.9,16.1 12.6,14.8 12.1,15.7 11.7,16.5 12.9,19.8 12.3,20.6 11.7,21.4 9.6,19.3 9.1,20 8.5,20.5 9.1,24.2 8.4,24.8 7.7,25.4 6.1,22.5 5.4,22.9 4.8,23.2 4.7,27 3.9,27.3 3.2,27.6 2.1,24.2 1.4,24.3 0.7,24.3 0,28 -0.8,28 -1.6,27.9 -2.1,24.2 -2.7,24 -3.4,23.8 -4.7,27 -5.5,26.7 -6.2,26.3 -6.1,22.5 -6.7,22.1 -7.3,21.6 -9.1,24.2 -9.8,23.6 -10.4,22.9 -9.6,19.3 -10.2,18.7 -10.7,18 -12.9,19.8 -13.4,18.9 -13.9,18 -12.6,14.8 -13,14 -13.4,13.1 -15.8,14 -16.1,12.9 -16.5,11.8 -14.6,9.3 -14.9,8.3 -15.1,7.3 -17.6,7.2 -17.8,6.1 -17.9,4.9 -15.7,3.2 -15.8,2.1 -15.8,1.1 -18.2,0 -18.2,-1.2 -18.1,-2.4 -15.7,-3.2 -15.6,-4.2 -15.5,-5.3 -17.6,-7.2 -17.4,-8.4 -17.1,-9.6 -14.6,-9.3 -14.4,-10.3 -14,-11.2 -15.8,-14 -15.3,-15 -14.9,-16.1 -12.6,-14.8 -12.1,-15.7 -11.7,-16.5 -12.9,-19.8 -12.3,-20.6 -11.7,-21.4 -9.6,-19.3 -9.1,-20 -8.5,-20.5 -9.1,-24.2 -8.4,-24.8 -7.7,-25.4 -6.1,-22.5 -5.4,-22.9 -4.8,-23.2 -4.7,-27 -3.9,-27.3 -3.2,-27.6 -2.1,-24.2 -1.4,-24.3 -0.7,-24.3 0,-28" fill="#f7f6ee" stroke="#1f1f1f" stroke-width="1.4" stroke-linejoin="round"/><ellipse cx="0" cy="0" rx="15" ry="23" fill="#f7f6ee" stroke="#1f1f1f" stroke-width="1.3"/><ellipse cx="0" cy="0" rx="13.7" ry="21" fill="#f7f6ee" stroke="#1f1f1f" stroke-width="1.3"/></g>
<g transform="translate(705.8 308.2) rotate(19)"><polygon points="-11,-20 -10.2,-20 -9.5,-19.9 -9.1,-16.7 -8.5,-16.5 -7.8,-16.3 -6.6,-18.8 -5.9,-18.4 -5.2,-17.9 -5.5,-14.7 -4.9,-14.2 -4.4,-13.6 -2.6,-15.3 -2.1,-14.5 -1.5,-13.7 -2.5,-10.9 -2.1,-10.2 -1.8,-9.3 0.3,-10 0.6,-9 0.9,-7.9 -0.6,-5.8 -0.4,-4.9 -0.2,-3.9 1.8,-3.5 1.9,-2.3 2,-1.2 0,0 0,1 0,2 1.8,3.5 1.6,4.6 1.5,5.7 -0.6,5.8 -0.9,6.7 -1.1,7.6 0.3,10 -0.1,11 -0.6,11.9 -2.5,10.9 -3,11.7 -3.4,12.4 -2.6,15.3 -3.2,16 -3.9,16.7 -5.5,14.7 -6,15.2 -6.6,15.6 -6.6,18.8 -7.3,19.2 -8,19.5 -9.1,16.7 -9.7,16.9 -10.4,17 -11,20 -11.8,20 -12.5,19.9 -12.9,16.7 -13.5,16.5 -14.2,16.3 -15.4,18.8 -16.1,18.4 -16.8,17.9 -16.5,14.7 -17.1,14.2 -17.6,13.6 -19.4,15.3 -19.9,14.5 -20.5,13.7 -19.5,10.9 -19.9,10.2 -20.2,9.3 -22.3,10 -22.6,9 -22.9,7.9 -21.4,5.8 -21.6,4.9 -21.8,3.9 -23.8,3.5 -23.9,2.3 -24,1.2 -22,0 -22,-1 -22,-2 -23.8,-3.5 -23.6,-4.6 -23.5,-5.7 -21.4,-5.8 -21.1,-6.7 -20.9,-7.6 -22.3,-10 -21.9,-11 -21.4,-11.9 -19.5,-10.9 -19,-11.7 -18.6,-12.4 -19.4,-15.3 -18.8,-16 -18.1,-16.7 -16.5,-14.7 -16,-15.2 -15.4,-15.6 -15.4,-18.8 -14.7,-19.2 -14,-19.5 -12.9,-16.7 -12.3,-16.9 -11.6,-17 -11,-20" fill="#f7f6ee"/><rect x="-11" y="-17" width="11" height="34" fill="#f7f6ee"/><polygon points="-12.9,16.7 -1.9,16.7 -3.3,16.2 -14.3,16.2" fill="#a9a8a0"/><polygon points="-16.5,14.7 -5.5,14.7 -6.7,13.5 -17.7,13.5" fill="#a9a8a0"/><polygon points="-19.5,10.9 -8.5,10.9 -9.3,9.1 -20.3,9.1" fill="#a9a8a0"/><polygon points="-21.4,5.8 -10.4,5.8 -10.8,3.7 -21.8,3.7" fill="#a9a8a0"/><polygon points="-22.1,0 -11.1,0 -11,-2.2 -22,-2.2" fill="#a9a8a0"/><polygon points="-21.4,-5.8 -10.4,-5.8 -9.8,-7.9 -20.8,-7.9" fill="#a9a8a0"/><polygon points="-19.5,-10.9 -8.5,-10.9 -7.5,-12.6 -18.5,-12.6" fill="#a9a8a0"/><polygon points="-16.5,-14.7 -5.5,-14.7 -4.2,-15.7 -15.2,-15.7" fill="#a9a8a0"/><polygon points="-12.9,-16.7 -1.9,-16.7 -0.5,-17 -11.5,-17" fill="#a9a8a0"/><polyline points="-11,20 -11.8,20 -12.5,19.9 -12.9,16.7 -13.5,16.5 -14.2,16.3 -15.4,18.8 -16.1,18.4 -16.8,17.9 -16.5,14.7 -17.1,14.2 -17.6,13.6 -19.4,15.3 -19.9,14.5 -20.5,13.7 -19.5,10.9 -19.9,10.2 -20.2,9.3 -22.3,10 -22.6,9 -22.9,7.9 -21.4,5.8 -21.6,4.9 -21.8,3.9 -23.8,3.5 -23.9,2.3 -24,1.2 -22,0 -22,-1 -22,-2 -23.8,-3.5 -23.6,-4.6 -23.5,-5.7 -21.4,-5.8 -21.1,-6.7 -20.9,-7.6 -22.3,-10 -21.9,-11 -21.4,-11.9 -19.5,-10.9 -19,-11.7 -18.6,-12.4 -19.4,-15.3 -18.8,-16 -18.1,-16.7 -16.5,-14.7 -16,-15.2 -15.4,-15.6 -15.4,-18.8 -14.7,-19.2 -14,-19.5 -12.9,-16.7 -12.3,-16.9 -11.6,-17 -11,-20" fill="none" stroke="#1f1f1f" stroke-width="1.4" stroke-linejoin="round"/><path d="M-12.7 19.8H-1.7M-15.4 18.8H-4.4M-17 17.7H-6M-19.4 15.3H-8.4M-20.6 13.5H-9.6M-22.3 10H-11.3M-23 7.6H-12M-23.8 3.5H-12.8M-24 0.8H-13M-23.8 -3.5H-12.8M-23.4 -6H-12.4M-22.3 -10H-11.3M-21.3 -12.2H-10.3M-19.4 -15.3H-8.4M-18 -16.9H-7M-15.4 -18.8H-4.4M-13.8 -19.5H-2.8" stroke="#1f1f1f" stroke-width="1.2"/><polygon points="0,-20 0.8,-20 1.5,-19.9 1.9,-16.7 2.5,-16.5 3.2,-16.3 4.4,-18.8 5.1,-18.4 5.8,-17.9 5.5,-14.7 6.1,-14.2 6.6,-13.6 8.4,-15.3 8.9,-14.5 9.5,-13.7 8.5,-10.9 8.9,-10.2 9.2,-9.3 11.3,-10 11.6,-9 11.9,-7.9 10.4,-5.8 10.6,-4.9 10.8,-3.9 12.8,-3.5 12.9,-2.3 13,-1.2 11,0 11,1 11,2 12.8,3.5 12.6,4.6 12.5,5.7 10.4,5.8 10.1,6.7 9.9,7.6 11.3,10 10.9,11 10.4,11.9 8.5,10.9 8,11.7 7.6,12.4 8.4,15.3 7.8,16 7.1,16.7 5.5,14.7 5,15.2 4.4,15.6 4.4,18.8 3.7,19.2 3,19.5 1.9,16.7 1.3,16.9 0.6,17 0,20 -0.8,20 -1.5,19.9 -1.9,16.7 -2.5,16.5 -3.2,16.3 -4.4,18.8 -5.1,18.4 -5.8,17.9 -5.5,14.7 -6.1,14.2 -6.6,13.6 -8.4,15.3 -8.9,14.5 -9.5,13.7 -8.5,10.9 -8.9,10.2 -9.2,9.3 -11.3,10 -11.6,9 -11.9,7.9 -10.4,5.8 -10.6,4.9 -10.8,3.9 -12.8,3.5 -12.9,2.3 -13,1.2 -11,0 -11,-1 -11,-2 -12.8,-3.5 -12.6,-4.6 -12.5,-5.7 -10.4,-5.8 -10.1,-6.7 -9.9,-7.6 -11.3,-10 -10.9,-11 -10.4,-11.9 -8.5,-10.9 -8,-11.7 -7.6,-12.4 -8.4,-15.3 -7.8,-16 -7.1,-16.7 -5.5,-14.7 -5,-15.2 -4.4,-15.6 -4.4,-18.8 -3.7,-19.2 -3,-19.5 -1.9,-16.7 -1.3,-16.9 -0.6,-17 0,-20" fill="#f7f6ee" stroke="#1f1f1f" stroke-width="1.4" stroke-linejoin="round"/></g>
<g transform="translate(728 315.4) rotate(19)"><polygon points="-8,-30 -7.2,-30 -6.4,-29.9 -6,-25.9 -5.3,-25.8 -4.6,-25.6 -3.3,-29.1 -2.6,-28.8 -1.8,-28.5 -2,-24.4 -1.4,-24 -0.7,-23.6 1.1,-26.6 1.8,-26 2.4,-25.4 1.6,-21.5 2.2,-20.9 2.7,-20.2 4.9,-22.5 5.5,-21.6 6.1,-20.8 4.7,-17.3 5.1,-16.5 5.6,-15.7 8,-17 8.5,-16 8.9,-15 7,-12.1 7.3,-11.2 7.6,-10.2 10.2,-10.6 10.5,-9.5 10.7,-8.3 8.5,-6.2 8.6,-5.2 8.7,-4.2 11.4,-3.6 11.4,-2.4 11.5,-1.2 9,0 9,1.1 8.9,2.1 11.4,3.6 11.2,4.8 11.1,6 8.5,6.2 8.3,7.3 8.1,8.3 10.2,10.6 9.9,11.8 9.6,12.9 7,12.1 6.7,13.1 6.3,13.9 8,17 7.6,18 7.1,19 4.7,17.3 4.2,18.1 3.8,18.8 4.9,22.5 4.3,23.2 3.7,24 1.6,21.5 1.1,22.1 0.5,22.6 1.1,26.6 0.4,27.1 -0.4,27.6 -2,24.4 -2.6,24.8 -3.3,25.1 -3.3,29.1 -4.1,29.4 -4.9,29.6 -6,25.9 -6.6,26 -7.3,26.1 -8,30 -8.8,30 -9.6,29.9 -10,25.9 -10.7,25.8 -11.4,25.6 -12.7,29.1 -13.4,28.8 -14.2,28.5 -14,24.4 -14.6,24 -15.3,23.6 -17.1,26.6 -17.7,26 -18.4,25.4 -17.6,21.5 -18.2,20.9 -18.7,20.2 -20.9,22.5 -21.5,21.6 -22.1,20.8 -20.7,17.3 -21.1,16.5 -21.6,15.7 -24,17 -24.5,16 -24.9,15 -23,12.1 -23.3,11.2 -23.6,10.2 -26.2,10.6 -26.5,9.5 -26.7,8.3 -24.5,6.2 -24.6,5.2 -24.7,4.2 -27.4,3.6 -27.4,2.4 -27.5,1.2 -25,0 -25,-1.1 -24.9,-2.1 -27.4,-3.6 -27.2,-4.8 -27.1,-6 -24.5,-6.2 -24.3,-7.3 -24.1,-8.3 -26.2,-10.6 -25.9,-11.8 -25.6,-12.9 -23,-12.1 -22.7,-13 -22.3,-13.9 -24,-17 -23.6,-18 -23.1,-19 -20.7,-17.3 -20.2,-18.1 -19.8,-18.8 -20.9,-22.5 -20.3,-23.2 -19.7,-24 -17.6,-21.5 -17.1,-22.1 -16.5,-22.6 -17.1,-26.6 -16.4,-27.1 -15.6,-27.6 -14,-24.4 -13.4,-24.8 -12.7,-25.1 -12.7,-29.1 -11.9,-29.4 -11.1,-29.6 -10,-25.9 -9.4,-26 -8.7,-26.1 -8,-30" fill="#f7f6ee"/><rect x="-8" y="-26.1" width="8" height="52.2" fill="#f7f6ee"/><polygon points="-10,25.9 -2,25.9 -3.6,25.5 -11.6,25.5" fill="#a9a8a0"/><polygon points="-14,24.4 -6,24.4 -7.4,23.5 -15.4,23.5" fill="#a9a8a0"/><polygon points="-17.6,21.5 -9.6,21.5 -10.9,20 -18.9,20" fill="#a9a8a0"/><polygon points="-20.7,17.3 -12.7,17.3 -13.7,15.4 -21.7,15.4" fill="#a9a8a0"/><polygon points="-23,12.1 -15,12.1 -15.7,10 -23.7,10" fill="#a9a8a0"/><polygon points="-24.5,6.2 -16.5,6.2 -16.8,3.9 -24.8,3.9" fill="#a9a8a0"/><polygon points="-25,0 -17,0 -16.9,-2.4 -24.9,-2.4" fill="#a9a8a0"/><polygon points="-24.5,-6.2 -16.5,-6.2 -16,-8.5 -24,-8.5" fill="#a9a8a0"/><polygon points="-23,-12.1 -15,-12.1 -14.2,-14.2 -22.2,-14.2" fill="#a9a8a0"/><polygon points="-20.7,-17.3 -12.7,-17.3 -11.6,-19 -19.6,-19" fill="#a9a8a0"/><polygon points="-17.6,-21.5 -9.6,-21.5 -8.3,-22.7 -16.3,-22.7" fill="#a9a8a0"/><polygon points="-14,-24.4 -6,-24.4 -4.5,-25.1 -12.5,-25.1" fill="#a9a8a0"/><polyline points="-8,30 -8.8,30 -9.6,29.9 -10,25.9 -10.7,25.8 -11.4,25.6 -12.7,29.1 -13.4,28.8 -14.2,28.5 -14,24.4 -14.6,24 -15.3,23.6 -17.1,26.6 -17.8,26 -18.4,25.4 -17.6,21.5 -18.2,20.9 -18.7,20.2 -20.9,22.5 -21.5,21.6 -22.1,20.8 -20.7,17.3 -21.1,16.5 -21.6,15.7 -24,17 -24.5,16 -24.9,15 -23,12.1 -23.3,11.2 -23.6,10.2 -26.2,10.6 -26.5,9.5 -26.7,8.3 -24.5,6.2 -24.6,5.2 -24.7,4.2 -27.4,3.6 -27.4,2.4 -27.5,1.2 -25,0 -25,-1.1 -24.9,-2.1 -27.4,-3.6 -27.2,-4.8 -27.1,-6 -24.5,-6.2 -24.3,-7.3 -24.1,-8.3 -26.2,-10.6 -25.9,-11.8 -25.6,-12.9 -23,-12.1 -22.7,-13.1 -22.3,-13.9 -24,-17 -23.6,-18 -23.1,-19 -20.7,-17.3 -20.2,-18.1 -19.8,-18.8 -20.9,-22.5 -20.3,-23.2 -19.7,-24 -17.6,-21.5 -17.1,-22.1 -16.5,-22.6 -17.1,-26.6 -16.4,-27.1 -15.6,-27.6 -14,-24.4 -13.4,-24.8 -12.7,-25.1 -12.7,-29.1 -11.9,-29.4 -11.1,-29.6 -10,-25.9 -9.4,-26 -8.7,-26.1 -8,-30" fill="none" stroke="#1f1f1f" stroke-width="1.4" stroke-linejoin="round"/><path d="M-9.8 29.9H-1.8M-12.7 29.1H-4.7M-14.4 28.3H-6.4M-17.1 26.6H-9.1M-18.6 25.2H-10.6M-20.9 22.5H-12.9M-22.2 20.5H-14.2M-24 17H-16M-25 14.7H-17M-26.2 10.6H-18.2M-26.8 8H-18.8M-27.4 3.6H-19.4M-27.5 0.9H-19.5M-27.4 -3.6H-19.4M-27.1 -6.3H-19.1M-26.2 -10.6H-18.2M-25.5 -13.2H-17.5M-24 -17H-16M-23 -19.2H-15M-20.9 -22.5H-12.9M-19.5 -24.2H-11.5M-17.1 -26.6H-9.1M-15.4 -27.7H-7.4M-12.7 -29.1H-4.7M-10.9 -29.7H-2.9" stroke="#1f1f1f" stroke-width="1.2"/><polygon points="0,-30 0.8,-30 1.6,-29.9 2,-25.9 2.7,-25.8 3.4,-25.6 4.7,-29.1 5.4,-28.8 6.2,-28.5 6,-24.4 6.6,-24 7.3,-23.6 9.1,-26.6 9.8,-26 10.4,-25.4 9.6,-21.5 10.2,-20.9 10.7,-20.2 12.9,-22.5 13.5,-21.6 14.1,-20.8 12.7,-17.3 13.1,-16.5 13.6,-15.7 16,-17 16.5,-16 16.9,-15 15,-12.1 15.3,-11.2 15.6,-10.2 18.2,-10.6 18.5,-9.5 18.7,-8.3 16.5,-6.2 16.6,-5.2 16.7,-4.2 19.4,-3.6 19.4,-2.4 19.5,-1.2 17,0 17,1.1 16.9,2.1 19.4,3.6 19.2,4.8 19.1,6 16.5,6.2 16.3,7.3 16.1,8.3 18.2,10.6 17.9,11.8 17.6,12.9 15,12.1 14.7,13.1 14.3,13.9 16,17 15.6,18 15.1,19 12.7,17.3 12.2,18.1 11.8,18.8 12.9,22.5 12.3,23.2 11.7,24 9.6,21.5 9.1,22.1 8.5,22.6 9.1,26.6 8.4,27.1 7.6,27.6 6,24.4 5.4,24.8 4.7,25.1 4.7,29.1 3.9,29.4 3.1,29.6 2,25.9 1.4,26 0.7,26.1 0,30 -0.8,30 -1.6,29.9 -2,25.9 -2.7,25.8 -3.4,25.6 -4.7,29.1 -5.4,28.8 -6.2,28.5 -6,24.4 -6.6,24 -7.3,23.6 -9.1,26.6 -9.7,26 -10.4,25.4 -9.6,21.5 -10.2,20.9 -10.7,20.2 -12.9,22.5 -13.5,21.6 -14.1,20.8 -12.7,17.3 -13.1,16.5 -13.6,15.7 -16,17 -16.5,16 -16.9,15 -15,12.1 -15.3,11.2 -15.6,10.2 -18.2,10.6 -18.5,9.5 -18.7,8.3 -16.5,6.2 -16.6,5.2 -16.7,4.2 -19.4,3.6 -19.4,2.4 -19.5,1.2 -17,0 -17,-1.1 -16.9,-2.1 -19.4,-3.6 -19.2,-4.8 -19.1,-6 -16.5,-6.2 -16.3,-7.3 -16.1,-8.3 -18.2,-10.6 -17.9,-11.8 -17.6,-12.9 -15,-12.1 -14.7,-13 -14.3,-13.9 -16,-17 -15.6,-18 -15.1,-19 -12.7,-17.3 -12.2,-18.1 -11.8,-18.8 -12.9,-22.5 -12.3,-23.2 -11.7,-24 -9.6,-21.5 -9.1,-22.1 -8.5,-22.6 -9.1,-26.6 -8.4,-27.1 -7.6,-27.6 -6,-24.4 -5.4,-24.8 -4.7,-25.1 -4.7,-29.1 -3.9,-29.4 -3.1,-29.6 -2,-25.9 -1.4,-26 -0.7,-26.1 0,-30" fill="#f7f6ee" stroke="#1f1f1f" stroke-width="1.4" stroke-linejoin="round"/></g>
<g transform="translate(735.5 318) rotate(19)"><polygon points="-8,-30 -7.2,-30 -6.4,-29.9 -6,-25.9 -5.3,-25.8 -4.6,-25.6 -3.3,-29.1 -2.6,-28.8 -1.8,-28.5 -2,-24.4 -1.4,-24 -0.7,-23.6 1.1,-26.6 1.8,-26 2.4,-25.4 1.6,-21.5 2.2,-20.9 2.7,-20.2 4.9,-22.5 5.5,-21.6 6.1,-20.8 4.7,-17.3 5.1,-16.5 5.6,-15.7 8,-17 8.5,-16 8.9,-15 7,-12.1 7.3,-11.2 7.6,-10.2 10.2,-10.6 10.5,-9.5 10.7,-8.3 8.5,-6.2 8.6,-5.2 8.7,-4.2 11.4,-3.6 11.4,-2.4 11.5,-1.2 9,0 9,1.1 8.9,2.1 11.4,3.6 11.2,4.8 11.1,6 8.5,6.2 8.3,7.3 8.1,8.3 10.2,10.6 9.9,11.8 9.6,12.9 7,12.1 6.7,13.1 6.3,13.9 8,17 7.6,18 7.1,19 4.7,17.3 4.2,18.1 3.8,18.8 4.9,22.5 4.3,23.2 3.7,24 1.6,21.5 1.1,22.1 0.5,22.6 1.1,26.6 0.4,27.1 -0.4,27.6 -2,24.4 -2.6,24.8 -3.3,25.1 -3.3,29.1 -4.1,29.4 -4.9,29.6 -6,25.9 -6.6,26 -7.3,26.1 -8,30 -8.8,30 -9.6,29.9 -10,25.9 -10.7,25.8 -11.4,25.6 -12.7,29.1 -13.4,28.8 -14.2,28.5 -14,24.4 -14.6,24 -15.3,23.6 -17.1,26.6 -17.7,26 -18.4,25.4 -17.6,21.5 -18.2,20.9 -18.7,20.2 -20.9,22.5 -21.5,21.6 -22.1,20.8 -20.7,17.3 -21.1,16.5 -21.6,15.7 -24,17 -24.5,16 -24.9,15 -23,12.1 -23.3,11.2 -23.6,10.2 -26.2,10.6 -26.5,9.5 -26.7,8.3 -24.5,6.2 -24.6,5.2 -24.7,4.2 -27.4,3.6 -27.4,2.4 -27.5,1.2 -25,0 -25,-1.1 -24.9,-2.1 -27.4,-3.6 -27.2,-4.8 -27.1,-6 -24.5,-6.2 -24.3,-7.3 -24.1,-8.3 -26.2,-10.6 -25.9,-11.8 -25.6,-12.9 -23,-12.1 -22.7,-13 -22.3,-13.9 -24,-17 -23.6,-18 -23.1,-19 -20.7,-17.3 -20.2,-18.1 -19.8,-18.8 -20.9,-22.5 -20.3,-23.2 -19.7,-24 -17.6,-21.5 -17.1,-22.1 -16.5,-22.6 -17.1,-26.6 -16.4,-27.1 -15.6,-27.6 -14,-24.4 -13.4,-24.8 -12.7,-25.1 -12.7,-29.1 -11.9,-29.4 -11.1,-29.6 -10,-25.9 -9.4,-26 -8.7,-26.1 -8,-30" fill="#f7f6ee"/><rect x="-8" y="-26.1" width="8" height="52.2" fill="#f7f6ee"/><polygon points="-10,25.9 -2,25.9 -3.6,25.5 -11.6,25.5" fill="#a9a8a0"/><polygon points="-14,24.4 -6,24.4 -7.4,23.5 -15.4,23.5" fill="#a9a8a0"/><polygon points="-17.6,21.5 -9.6,21.5 -10.9,20 -18.9,20" fill="#a9a8a0"/><polygon points="-20.7,17.3 -12.7,17.3 -13.7,15.4 -21.7,15.4" fill="#a9a8a0"/><polygon points="-23,12.1 -15,12.1 -15.7,10 -23.7,10" fill="#a9a8a0"/><polygon points="-24.5,6.2 -16.5,6.2 -16.8,3.9 -24.8,3.9" fill="#a9a8a0"/><polygon points="-25,0 -17,0 -16.9,-2.4 -24.9,-2.4" fill="#a9a8a0"/><polygon points="-24.5,-6.2 -16.5,-6.2 -16,-8.5 -24,-8.5" fill="#a9a8a0"/><polygon points="-23,-12.1 -15,-12.1 -14.2,-14.2 -22.2,-14.2" fill="#a9a8a0"/><polygon points="-20.7,-17.3 -12.7,-17.3 -11.6,-19 -19.6,-19" fill="#a9a8a0"/><polygon points="-17.6,-21.5 -9.6,-21.5 -8.3,-22.7 -16.3,-22.7" fill="#a9a8a0"/><polygon points="-14,-24.4 -6,-24.4 -4.5,-25.1 -12.5,-25.1" fill="#a9a8a0"/><polyline points="-8,30 -8.8,30 -9.6,29.9 -10,25.9 -10.7,25.8 -11.4,25.6 -12.7,29.1 -13.4,28.8 -14.2,28.5 -14,24.4 -14.6,24 -15.3,23.6 -17.1,26.6 -17.8,26 -18.4,25.4 -17.6,21.5 -18.2,20.9 -18.7,20.2 -20.9,22.5 -21.5,21.6 -22.1,20.8 -20.7,17.3 -21.1,16.5 -21.6,15.7 -24,17 -24.5,16 -24.9,15 -23,12.1 -23.3,11.2 -23.6,10.2 -26.2,10.6 -26.5,9.5 -26.7,8.3 -24.5,6.2 -24.6,5.2 -24.7,4.2 -27.4,3.6 -27.4,2.4 -27.5,1.2 -25,0 -25,-1.1 -24.9,-2.1 -27.4,-3.6 -27.2,-4.8 -27.1,-6 -24.5,-6.2 -24.3,-7.3 -24.1,-8.3 -26.2,-10.6 -25.9,-11.8 -25.6,-12.9 -23,-12.1 -22.7,-13.1 -22.3,-13.9 -24,-17 -23.6,-18 -23.1,-19 -20.7,-17.3 -20.2,-18.1 -19.8,-18.8 -20.9,-22.5 -20.3,-23.2 -19.7,-24 -17.6,-21.5 -17.1,-22.1 -16.5,-22.6 -17.1,-26.6 -16.4,-27.1 -15.6,-27.6 -14,-24.4 -13.4,-24.8 -12.7,-25.1 -12.7,-29.1 -11.9,-29.4 -11.1,-29.6 -10,-25.9 -9.4,-26 -8.7,-26.1 -8,-30" fill="none" stroke="#1f1f1f" stroke-width="1.4" stroke-linejoin="round"/><path d="M-9.8 29.9H-1.8M-12.7 29.1H-4.7M-14.4 28.3H-6.4M-17.1 26.6H-9.1M-18.6 25.2H-10.6M-20.9 22.5H-12.9M-22.2 20.5H-14.2M-24 17H-16M-25 14.7H-17M-26.2 10.6H-18.2M-26.8 8H-18.8M-27.4 3.6H-19.4M-27.5 0.9H-19.5M-27.4 -3.6H-19.4M-27.1 -6.3H-19.1M-26.2 -10.6H-18.2M-25.5 -13.2H-17.5M-24 -17H-16M-23 -19.2H-15M-20.9 -22.5H-12.9M-19.5 -24.2H-11.5M-17.1 -26.6H-9.1M-15.4 -27.7H-7.4M-12.7 -29.1H-4.7M-10.9 -29.7H-2.9" stroke="#1f1f1f" stroke-width="1.2"/><polygon points="0,-30 0.8,-30 1.6,-29.9 2,-25.9 2.7,-25.8 3.4,-25.6 4.7,-29.1 5.4,-28.8 6.2,-28.5 6,-24.4 6.6,-24 7.3,-23.6 9.1,-26.6 9.8,-26 10.4,-25.4 9.6,-21.5 10.2,-20.9 10.7,-20.2 12.9,-22.5 13.5,-21.6 14.1,-20.8 12.7,-17.3 13.1,-16.5 13.6,-15.7 16,-17 16.5,-16 16.9,-15 15,-12.1 15.3,-11.2 15.6,-10.2 18.2,-10.6 18.5,-9.5 18.7,-8.3 16.5,-6.2 16.6,-5.2 16.7,-4.2 19.4,-3.6 19.4,-2.4 19.5,-1.2 17,0 17,1.1 16.9,2.1 19.4,3.6 19.2,4.8 19.1,6 16.5,6.2 16.3,7.3 16.1,8.3 18.2,10.6 17.9,11.8 17.6,12.9 15,12.1 14.7,13.1 14.3,13.9 16,17 15.6,18 15.1,19 12.7,17.3 12.2,18.1 11.8,18.8 12.9,22.5 12.3,23.2 11.7,24 9.6,21.5 9.1,22.1 8.5,22.6 9.1,26.6 8.4,27.1 7.6,27.6 6,24.4 5.4,24.8 4.7,25.1 4.7,29.1 3.9,29.4 3.1,29.6 2,25.9 1.4,26 0.7,26.1 0,30 -0.8,30 -1.6,29.9 -2,25.9 -2.7,25.8 -3.4,25.6 -4.7,29.1 -5.4,28.8 -6.2,28.5 -6,24.4 -6.6,24 -7.3,23.6 -9.1,26.6 -9.7,26 -10.4,25.4 -9.6,21.5 -10.2,20.9 -10.7,20.2 -12.9,22.5 -13.5,21.6 -14.1,20.8 -12.7,17.3 -13.1,16.5 -13.6,15.7 -16,17 -16.5,16 -16.9,15 -15,12.1 -15.3,11.2 -15.6,10.2 -18.2,10.6 -18.5,9.5 -18.7,8.3 -16.5,6.2 -16.6,5.2 -16.7,4.2 -19.4,3.6 -19.4,2.4 -19.5,1.2 -17,0 -17,-1.1 -16.9,-2.1 -19.4,-3.6 -19.2,-4.8 -19.1,-6 -16.5,-6.2 -16.3,-7.3 -16.1,-8.3 -18.2,-10.6 -17.9,-11.8 -17.6,-12.9 -15,-12.1 -14.7,-13 -14.3,-13.9 -16,-17 -15.6,-18 -15.1,-19 -12.7,-17.3 -12.2,-18.1 -11.8,-18.8 -12.9,-22.5 -12.3,-23.2 -11.7,-24 -9.6,-21.5 -9.1,-22.1 -8.5,-22.6 -9.1,-26.6 -8.4,-27.1 -7.6,-27.6 -6,-24.4 -5.4,-24.8 -4.7,-25.1 -4.7,-29.1 -3.9,-29.4 -3.1,-29.6 -2,-25.9 -1.4,-26 -0.7,-26.1 0,-30" fill="#f7f6ee" stroke="#1f1f1f" stroke-width="1.4" stroke-linejoin="round"/><ellipse cx="0" cy="0" rx="16.2" ry="25" fill="#f7f6ee" stroke="#1f1f1f" stroke-width="1.3"/><ellipse cx="0" cy="0" rx="15" ry="23" fill="#f7f6ee" stroke="#1f1f1f" stroke-width="1.3"/></g>
<g transform="translate(752 323.6) rotate(19)"><polygon points="-17,-23 -16.2,-23 -15.4,-22.9 -15,-19.3 -14.4,-19.1 -13.7,-18.9 -12.4,-21.9 -11.6,-21.5 -10.9,-21 -11.2,-17.4 -10.6,-16.9 -10.1,-16.4 -8.2,-18.6 -7.6,-17.9 -7,-17.1 -8,-13.8 -7.6,-13.1 -7.1,-12.3 -4.9,-13.5 -4.5,-12.5 -4.1,-11.5 -5.7,-8.9 -5.4,-8 -5.1,-7 -2.8,-7.1 -2.6,-6 -2.4,-4.8 -4.4,-3.1 -4.4,-2 -4.3,-1 -2.1,0 -2.1,1.2 -2.1,2.4 -4.4,3.1 -4.6,4.1 -4.7,5.1 -2.8,7.1 -3,8.2 -3.3,9.4 -5.7,8.9 -6,9.8 -6.3,10.6 -4.9,13.5 -5.4,14.5 -5.9,15.4 -8,13.8 -8.5,14.5 -9,15.2 -8.2,18.6 -8.9,19.3 -9.5,19.9 -11.2,17.4 -11.8,17.9 -12.4,18.3 -12.4,21.9 -13.1,22.2 -13.9,22.5 -15,19.3 -15.7,19.4 -16.3,19.5 -17,23 -17.8,23 -18.6,22.9 -19,19.3 -19.6,19.1 -20.3,18.9 -21.6,21.9 -22.4,21.5 -23.1,21 -22.8,17.4 -23.4,16.9 -23.9,16.4 -25.8,18.6 -26.4,17.9 -27,17.1 -26,13.8 -26.4,13.1 -26.9,12.3 -29.1,13.5 -29.5,12.5 -29.9,11.5 -28.3,8.9 -28.6,8 -28.9,7 -31.2,7.1 -31.4,6 -31.6,4.8 -29.6,3.1 -29.6,2 -29.7,1 -31.9,0 -31.9,-1.2 -31.9,-2.4 -29.6,-3.1 -29.4,-4.1 -29.3,-5.1 -31.2,-7.1 -31,-8.2 -30.7,-9.4 -28.3,-8.9 -28,-9.8 -27.7,-10.6 -29.1,-13.5 -28.6,-14.5 -28.1,-15.4 -26,-13.8 -25.5,-14.5 -25,-15.2 -25.8,-18.6 -25.1,-19.3 -24.5,-19.9 -22.8,-17.4 -22.2,-17.9 -21.6,-18.3 -21.6,-21.9 -20.9,-22.2 -20.1,-22.5 -19,-19.3 -18.3,-19.4 -17.7,-19.5 -17,-23" fill="#f7f6ee"/><rect x="-17" y="-19.6" width="17" height="39.1" fill="#f7f6ee"/><polygon points="-19,19.3 -2,19.3 -3.5,18.8 -20.5,18.8" fill="#a9a8a0"/><polygon points="-22.8,17.4 -5.8,17.4 -7.1,16.2 -24.1,16.2" fill="#a9a8a0"/><polygon points="-26,13.8 -9,13.8 -10,12.1 -27,12.1" fill="#a9a8a0"/><polygon points="-28.3,8.9 -11.3,8.9 -11.9,6.7 -28.9,6.7" fill="#a9a8a0"/><polygon points="-29.6,3.1 -12.6,3.1 -12.7,0.7 -29.7,0.7" fill="#a9a8a0"/><polygon points="-29.6,-3.1 -12.6,-3.1 -12.2,-5.3 -29.2,-5.3" fill="#a9a8a0"/><polygon points="-28.3,-8.9 -11.3,-8.9 -10.6,-10.9 -27.6,-10.9" fill="#a9a8a0"/><polygon points="-26,-13.8 -9,-13.8 -7.9,-15.4 -24.9,-15.4" fill="#a9a8a0"/><polygon points="-22.8,-17.4 -5.8,-17.4 -4.4,-18.4 -21.4,-18.4" fill="#a9a8a0"/><polyline points="-17,23 -17.8,23 -18.6,22.9 -19,19.3 -19.6,19.1 -20.3,18.9 -21.6,21.9 -22.4,21.5 -23.1,21 -22.8,17.4 -23.4,16.9 -23.9,16.4 -25.8,18.6 -26.4,17.9 -27,17.1 -26,13.8 -26.4,13.1 -26.9,12.3 -29.1,13.5 -29.5,12.5 -29.9,11.5 -28.3,8.9 -28.6,8 -28.9,7 -31.2,7.1 -31.4,6 -31.6,4.8 -29.6,3.1 -29.6,2 -29.7,1 -31.9,0 -31.9,-1.2 -31.9,-2.4 -29.6,-3.1 -29.4,-4.1 -29.3,-5.1 -31.2,-7.1 -31,-8.2 -30.7,-9.4 -28.3,-8.9 -28,-9.8 -27.7,-10.6 -29.1,-13.5 -28.6,-14.5 -28.1,-15.4 -26,-13.8 -25.5,-14.5 -25,-15.2 -25.8,-18.6 -25.1,-19.3 -24.5,-19.9 -22.8,-17.4 -22.2,-17.9 -21.6,-18.3 -21.6,-21.9 -20.9,-22.2 -20.1,-22.5 -19,-19.3 -18.3,-19.4 -17.7,-19.5 -17,-23" fill="none" stroke="#1f1f1f" stroke-width="1.4" stroke-linejoin="round"/><path d="M-18.8 22.8H-1.8M-21.6 21.9H-4.6M-23.3 20.9H-6.3M-25.8 18.6H-8.8M-27.2 16.9H-10.2M-29.1 13.5H-12.1M-30.1 11.2H-13.1M-31.2 7.1H-14.2M-31.7 4.5H-14.7M-32 0H-15M-31.8 -2.7H-14.8M-31.2 -7.1H-14.2M-30.6 -9.7H-13.6M-29.1 -13.5H-12.1M-28 -15.6H-11M-25.8 -18.6H-8.8M-24.3 -20.1H-7.3M-21.6 -21.9H-4.6M-19.9 -22.6H-2.9" stroke="#1f1f1f" stroke-width="1.2"/><polygon points="0,-23 0.8,-23 1.6,-22.9 2,-19.3 2.6,-19.1 3.3,-18.9 4.6,-21.9 5.4,-21.5 6.1,-21 5.8,-17.4 6.4,-16.9 6.9,-16.4 8.8,-18.6 9.4,-17.9 10,-17.1 9,-13.8 9.4,-13.1 9.9,-12.3 12.1,-13.5 12.5,-12.5 12.9,-11.5 11.3,-8.9 11.6,-8 11.9,-7 14.2,-7.1 14.4,-6 14.6,-4.8 12.6,-3.1 12.6,-2 12.7,-1 14.9,0 14.9,1.2 14.9,2.4 12.6,3.1 12.4,4.1 12.3,5.1 14.2,7.1 14,8.2 13.7,9.4 11.3,8.9 11,9.8 10.7,10.6 12.1,13.5 11.6,14.5 11.1,15.4 9,13.8 8.5,14.5 8,15.2 8.8,18.6 8.1,19.3 7.5,19.9 5.8,17.4 5.2,17.9 4.6,18.3 4.6,21.9 3.9,22.2 3.1,22.5 2,19.3 1.3,19.4 0.7,19.5 0,23 -0.8,23 -1.6,22.9 -2,19.3 -2.6,19.1 -3.3,18.9 -4.6,21.9 -5.4,21.5 -6.1,21 -5.8,17.4 -6.4,16.9 -6.9,16.4 -8.8,18.6 -9.4,17.9 -10,17.1 -9,13.8 -9.4,13.1 -9.9,12.3 -12.1,13.5 -12.5,12.5 -12.9,11.5 -11.3,8.9 -11.6,8 -11.9,7 -14.2,7.1 -14.4,6 -14.6,4.8 -12.6,3.1 -12.6,2 -12.7,1 -14.9,0 -14.9,-1.2 -14.9,-2.4 -12.6,-3.1 -12.4,-4.1 -12.3,-5.1 -14.2,-7.1 -14,-8.2 -13.7,-9.4 -11.3,-8.9 -11,-9.8 -10.7,-10.6 -12.1,-13.5 -11.6,-14.5 -11.1,-15.4 -9,-13.8 -8.5,-14.5 -8,-15.2 -8.8,-18.6 -8.1,-19.3 -7.5,-19.9 -5.8,-17.4 -5.2,-17.9 -4.6,-18.3 -4.6,-21.9 -3.9,-22.2 -3.1,-22.5 -2,-19.3 -1.3,-19.4 -0.7,-19.5 0,-23" fill="#f7f6ee" stroke="#1f1f1f" stroke-width="1.4" stroke-linejoin="round"/></g>
<g transform="translate(770.3 329) rotate(19)"><polygon points="-10,-35.8 -9.2,-35.8 -8.5,-35.7 -8,-31.4 -7.3,-31.2 -6.7,-31.1 -5.5,-35.1 -4.7,-34.9 -4,-34.6 -4.1,-30.1 -3.4,-29.8 -2.8,-29.5 -1.1,-33.1 -0.4,-32.6 0.3,-32.1 -0.3,-27.8 0.2,-27.3 0.8,-26.8 2.9,-29.8 3.6,-29.1 4.2,-28.4 3,-24.4 3.5,-23.7 4,-23 6.5,-25.3 7,-24.5 7.5,-23.6 5.8,-20 6.2,-19.2 6.6,-18.4 9.3,-19.9 9.8,-18.9 10.2,-17.9 8.1,-14.9 8.4,-13.9 8.7,-13 11.5,-13.7 11.8,-12.6 12,-11.5 9.6,-9.1 9.8,-8.2 9.9,-7.2 12.8,-7 13,-5.8 13.1,-4.7 10.4,-3.1 10.4,-2.1 10.5,-1 13.3,0 13.3,1.2 13.2,2.3 10.4,3.1 10.3,4.1 10.2,5.1 12.8,7 12.7,8.1 12.5,9.3 9.6,9.1 9.4,10.1 9.2,11.1 11.5,13.7 11.2,14.8 10.9,15.8 8.1,14.9 7.7,15.8 7.4,16.6 9.3,19.9 8.9,20.9 8.5,21.8 5.8,20 5.4,20.8 4.9,21.5 6.5,25.3 5.9,26.1 5.3,26.9 3,24.4 2.5,25 1.9,25.6 2.9,29.8 2.3,30.4 1.6,31 -0.3,27.8 -0.9,28.3 -1.5,28.7 -1.1,33.1 -1.8,33.5 -2.5,33.9 -4.1,30.1 -4.7,30.4 -5.4,30.7 -5.5,35.1 -6.2,35.3 -7,35.5 -8,31.4 -8.7,31.4 -9.3,31.5 -10,35.8 -10.8,35.8 -11.5,35.7 -12,31.4 -12.7,31.2 -13.3,31.1 -14.5,35.1 -15.3,34.9 -16,34.6 -15.9,30.1 -16.6,29.8 -17.2,29.5 -18.9,33.1 -19.6,32.6 -20.3,32.1 -19.7,27.8 -20.2,27.3 -20.8,26.8 -22.9,29.8 -23.6,29.1 -24.2,28.4 -23,24.4 -23.5,23.7 -24,23 -26.5,25.3 -27,24.5 -27.5,23.6 -25.8,20 -26.2,19.2 -26.6,18.4 -29.3,19.9 -29.8,18.9 -30.2,17.9 -28.1,14.9 -28.4,13.9 -28.7,13 -31.5,13.7 -31.8,12.6 -32,11.5 -29.6,9.1 -29.8,8.2 -29.9,7.2 -32.8,7 -33,5.8 -33.1,4.7 -30.4,3.1 -30.4,2.1 -30.5,1 -33.3,0 -33.3,-1.2 -33.2,-2.3 -30.4,-3.1 -30.3,-4.1 -30.2,-5.1 -32.8,-7 -32.7,-8.1 -32.5,-9.3 -29.6,-9.1 -29.4,-10.1 -29.2,-11.1 -31.5,-13.7 -31.2,-14.8 -30.9,-15.8 -28.1,-14.9 -27.7,-15.8 -27.4,-16.6 -29.3,-19.9 -28.9,-20.9 -28.5,-21.8 -25.8,-20 -25.4,-20.8 -24.9,-21.5 -26.5,-25.3 -25.9,-26.1 -25.3,-26.9 -23,-24.4 -22.5,-25 -21.9,-25.6 -22.9,-29.8 -22.3,-30.4 -21.6,-31 -19.7,-27.8 -19.1,-28.3 -18.5,-28.7 -18.9,-33.1 -18.2,-33.5 -17.5,-33.9 -15.9,-30.1 -15.3,-30.4 -14.6,-30.7 -14.5,-35.1 -13.8,-35.3 -13,-35.5 -12,-31.4 -11.3,-31.4 -10.7,-31.5 -10,-35.8" fill="#f7f6ee"/><rect x="-10" y="-31.5" width="10" height="63" fill="#f7f6ee"/><polygon points="-12,31.4 -2,31.4 -3.5,31 -13.5,31" fill="#a9a8a0"/><polygon points="-15.9,30.1 -5.9,30.1 -7.4,29.4 -17.4,29.4" fill="#a9a8a0"/><polygon points="-19.7,27.8 -9.7,27.8 -11,26.6 -21,26.6" fill="#a9a8a0"/><polygon points="-23,24.4 -13,24.4 -14.1,22.8 -24.1,22.8" fill="#a9a8a0"/><polygon points="-25.8,20 -15.8,20 -16.8,18.1 -26.8,18.1" fill="#a9a8a0"/><polygon points="-28.1,14.9 -18.1,14.9 -18.7,12.7 -28.7,12.7" fill="#a9a8a0"/><polygon points="-29.6,9.1 -19.6,9.1 -20,6.9 -30,6.9" fill="#a9a8a0"/><polygon points="-30.4,3.1 -20.4,3.1 -20.5,0.7 -30.5,0.7" fill="#a9a8a0"/><polygon points="-30.4,-3.1 -20.4,-3.1 -20.2,-5.4 -30.2,-5.4" fill="#a9a8a0"/><polygon points="-29.6,-9.1 -19.6,-9.1 -19.1,-11.4 -29.1,-11.4" fill="#a9a8a0"/><polygon points="-28.1,-14.9 -18.1,-14.9 -17.3,-16.9 -27.3,-16.9" fill="#a9a8a0"/><polygon points="-25.8,-20 -15.8,-20 -14.8,-21.7 -24.8,-21.7" fill="#a9a8a0"/><polygon points="-23,-24.4 -13,-24.4 -11.8,-25.8 -21.8,-25.8" fill="#a9a8a0"/><polygon points="-19.7,-27.8 -9.7,-27.8 -8.3,-28.8 -18.3,-28.8" fill="#a9a8a0"/><polygon points="-15.9,-30.1 -5.9,-30.1 -4.5,-30.7 -14.5,-30.7" fill="#a9a8a0"/><polyline points="-10,35.8 -10.8,35.8 -11.5,35.7 -12,31.4 -12.7,31.2 -13.3,31.1 -14.5,35.1 -15.3,34.9 -16,34.6 -15.9,30.1 -16.6,29.8 -17.2,29.5 -18.9,33.1 -19.6,32.6 -20.3,32.1 -19.7,27.8 -20.2,27.3 -20.8,26.8 -22.9,29.8 -23.6,29.1 -24.2,28.4 -23,24.4 -23.5,23.7 -24,23 -26.5,25.3 -27,24.5 -27.5,23.6 -25.8,20 -26.2,19.2 -26.6,18.4 -29.3,19.9 -29.8,18.9 -30.2,17.9 -28.1,14.9 -28.4,13.9 -28.7,13 -31.5,13.7 -31.8,12.6 -32,11.5 -29.6,9.1 -29.8,8.2 -29.9,7.2 -32.8,7 -33,5.8 -33.1,4.7 -30.4,3.1 -30.4,2.1 -30.5,1 -33.3,0 -33.3,-1.2 -33.2,-2.3 -30.4,-3.1 -30.3,-4.1 -30.2,-5.1 -32.8,-7 -32.7,-8.1 -32.5,-9.3 -29.6,-9.1 -29.4,-10.1 -29.2,-11.1 -31.5,-13.7 -31.2,-14.8 -30.9,-15.8 -28.1,-14.9 -27.7,-15.8 -27.4,-16.6 -29.3,-19.9 -28.9,-20.9 -28.5,-21.8 -25.8,-20 -25.4,-20.8 -24.9,-21.5 -26.5,-25.3 -25.9,-26.1 -25.3,-26.9 -23,-24.4 -22.5,-25 -21.9,-25.6 -22.9,-29.8 -22.3,-30.4 -21.6,-31 -19.7,-27.8 -19.1,-28.3 -18.5,-28.7 -18.9,-33.1 -18.2,-33.5 -17.5,-33.9 -15.9,-30.1 -15.3,-30.4 -14.6,-30.7 -14.5,-35.1 -13.8,-35.3 -13,-35.5 -12,-31.4 -11.3,-31.4 -10.7,-31.5 -10,-35.8" fill="none" stroke="#1f1f1f" stroke-width="1.4" stroke-linejoin="round"/><path d="M-14.5 35.1H-4.5M-16.2 34.5H-6.2M-18.9 33.1H-8.9M-20.5 32H-10.5M-22.9 29.8H-12.9M-24.3 28.2H-14.3M-26.5 25.3H-16.5M-27.6 23.4H-17.6M-29.3 19.9H-19.3M-30.3 17.6H-20.3M-31.5 13.7H-21.5M-32.1 11.2H-22.1M-32.8 7H-22.8M-33.1 4.3H-23.1M-33.3 0H-23.3M-33.2 -2.7H-23.2M-32.8 -7H-22.8M-32.4 -9.6H-22.4M-31.5 -13.7H-21.5M-30.8 -16.1H-20.8M-29.3 -19.9H-19.3M-28.3 -22.1H-18.3M-26.5 -25.3H-16.5M-25.2 -27.1H-15.2M-22.9 -29.8H-12.9M-21.4 -31.2H-11.4M-18.9 -33.1H-8.9M-17.3 -34H-7.3M-14.5 -35.1H-4.5M-12.8 -35.5H-2.8" stroke="#1f1f1f" stroke-width="1.2"/><polygon points="0,-35.8 0.8,-35.8 1.5,-35.7 2,-31.4 2.7,-31.2 3.3,-31.1 4.5,-35.1 5.3,-34.9 6,-34.6 5.9,-30.1 6.6,-29.8 7.2,-29.5 8.9,-33.1 9.6,-32.6 10.3,-32.1 9.7,-27.8 10.2,-27.3 10.8,-26.8 12.9,-29.8 13.6,-29.1 14.2,-28.4 13,-24.4 13.5,-23.7 14,-23 16.5,-25.3 17,-24.5 17.5,-23.6 15.8,-20 16.2,-19.2 16.6,-18.4 19.3,-19.9 19.8,-18.9 20.2,-17.9 18.1,-14.9 18.4,-13.9 18.7,-13 21.5,-13.7 21.8,-12.6 22,-11.5 19.6,-9.1 19.8,-8.2 19.9,-7.2 22.8,-7 23,-5.8 23.1,-4.7 20.4,-3.1 20.4,-2.1 20.5,-1 23.3,0 23.3,1.2 23.2,2.3 20.4,3.1 20.3,4.1 20.2,5.1 22.8,7 22.7,8.1 22.5,9.3 19.6,9.1 19.4,10.1 19.2,11.1 21.5,13.7 21.2,14.8 20.9,15.8 18.1,14.9 17.7,15.8 17.4,16.6 19.3,19.9 18.9,20.9 18.5,21.8 15.8,20 15.4,20.8 14.9,21.5 16.5,25.3 15.9,26.1 15.3,26.9 13,24.4 12.5,25 11.9,25.6 12.9,29.8 12.3,30.4 11.6,31 9.7,27.8 9.1,28.3 8.5,28.7 8.9,33.1 8.2,33.5 7.5,33.9 5.9,30.1 5.3,30.4 4.6,30.7 4.5,35.1 3.8,35.3 3,35.5 2,31.4 1.3,31.4 0.7,31.5 0,35.8 -0.8,35.8 -1.5,35.7 -2,31.4 -2.7,31.2 -3.3,31.1 -4.5,35.1 -5.3,34.9 -6,34.6 -5.9,30.1 -6.6,29.8 -7.2,29.5 -8.9,33.1 -9.6,32.6 -10.3,32.1 -9.7,27.8 -10.2,27.3 -10.8,26.8 -12.9,29.8 -13.6,29.1 -14.2,28.4 -13,24.4 -13.5,23.7 -14,23 -16.5,25.3 -17,24.5 -17.5,23.6 -15.8,20 -16.2,19.2 -16.6,18.4 -19.3,19.9 -19.8,18.9 -20.2,17.9 -18.1,14.9 -18.4,13.9 -18.7,13 -21.5,13.7 -21.8,12.6 -22,11.5 -19.6,9.1 -19.8,8.2 -19.9,7.2 -22.8,7 -23,5.8 -23.1,4.7 -20.4,3.1 -20.4,2.1 -20.5,1 -23.3,0 -23.3,-1.2 -23.2,-2.3 -20.4,-3.1 -20.3,-4.1 -20.2,-5.1 -22.8,-7 -22.7,-8.1 -22.5,-9.3 -19.6,-9.1 -19.4,-10.1 -19.2,-11.1 -21.5,-13.7 -21.2,-14.8 -20.9,-15.8 -18.1,-14.9 -17.7,-15.8 -17.4,-16.6 -19.3,-19.9 -18.9,-20.9 -18.5,-21.8 -15.8,-20 -15.4,-20.8 -14.9,-21.5 -16.5,-25.3 -15.9,-26.1 -15.3,-26.9 -13,-24.4 -12.5,-25 -11.9,-25.6 -12.9,-29.8 -12.3,-30.4 -11.6,-31 -9.7,-27.8 -9.1,-28.3 -8.5,-28.7 -8.9,-33.1 -8.2,-33.5 -7.5,-33.9 -5.9,-30.1 -5.3,-30.4 -4.6,-30.7 -4.5,-35.1 -3.8,-35.3 -3,-35.5 -2,-31.4 -1.3,-31.4 -0.7,-31.5 0,-35.8" fill="#f7f6ee" stroke="#1f1f1f" stroke-width="1.4" stroke-linejoin="round"/></g>
<g transform="translate(783 334) rotate(19)"><path d="M-14 -7 L0 -7 A4.5 7 0 0 1 0 7 L-14 7 A4.5 7 0 0 1 -14 -7 Z" fill="#f7f6ee" stroke="#1f1f1f" stroke-width="1.3" stroke-linejoin="round"/><ellipse cx="0" cy="0" rx="4.5" ry="7" fill="none" stroke="#1f1f1f" stroke-width="1.3"/><ellipse cx="0" cy="0" rx="2.3" ry="3.5" fill="#f7f6ee" stroke="#1f1f1f" stroke-width="1.1"/></g>
<ellipse cx="810.1" cy="344.4" rx="9.5" ry="11.1" fill="#f7f6ee" stroke="#2c2c2c" stroke-width="1.2" transform="rotate(15 810.1 344.4)"/>
<ellipse cx="811.3" cy="344.8" rx="9.5" ry="11.1" fill="#f7f6ee" stroke="#2c2c2c" stroke-width="1.2" transform="rotate(15 811.3 344.8)"/>
<ellipse cx="811.3" cy="344.8" rx="4.6" ry="7" fill="#f7f6ee" stroke="#2c2c2c" stroke-width="1.2" transform="rotate(15 811.3 344.8)"/>
<g transform="translate(846 355.8) rotate(20)"><path d="M-14 -11 L0 -11 A7.5 11 0 0 1 0 11 L-14 11 A7.5 11 0 0 1 -14 -11 Z" fill="#f7f6ee" stroke="#2c2c2c" stroke-width="1.2" stroke-linejoin="round"/><ellipse cx="0" cy="0" rx="7.5" ry="11" fill="none" stroke="#2c2c2c" stroke-width="1.2"/><ellipse cx="0" cy="0" rx="6.1" ry="9" fill="none" stroke="#2c2c2c" stroke-width="1"/><ellipse cx="0" cy="0" rx="4.6" ry="6.8" fill="#e6e4d8" stroke="#2c2c2c" stroke-width="1"/></g>
<g transform="translate(846 355.8) rotate(20)"><path d="M-3.3 -5.5H2.8" stroke="#2c2c2c" stroke-width="0.9"/><path d="M-3.3 -3.7H2.8" stroke="#2c2c2c" stroke-width="0.9"/><path d="M-3.3 -2H2.8" stroke="#2c2c2c" stroke-width="0.9"/><path d="M-3.3 -0.2H2.8" stroke="#2c2c2c" stroke-width="0.9"/><path d="M-3.3 1.5H2.8" stroke="#2c2c2c" stroke-width="0.9"/><path d="M-3.3 3.3H2.8" stroke="#2c2c2c" stroke-width="0.9"/><path d="M-3.3 5.1H2.8" stroke="#2c2c2c" stroke-width="0.9"/></g>
<path d="M730.1 357.8 C731.1 357.4 734.8 357.1 736.3 358.6 C737.8 360.1 740 365 740.8 368.4 C741.6 371.8 742.4 378.5 742 382.6 C741.6 386.7 739.7 393 738.1 396.8 C736.5 400.6 733.5 405.9 731 409.2 C728.5 412.5 723.2 417.7 720.4 419.9 C717.6 422.1 713.8 423.8 711.5 424.3 C709.2 424.8 708 424.5 704.4 423.4 C700.8 422.3 689.5 417.9 686.6 416.3 C683.7 414.7 684 413.9 684 411.9 C684 409.9 685.5 404 686.6 402.1 C687.7 400.2 690.7 399.1 692 398.6 C693.3 398.1 692.7 397.7 695.5 398.6 C698.3 399.5 710 404.5 711.5 404.8 C713 405.1 707.6 402 706.2 400.4 C704.8 398.8 702.2 395.2 701.7 393.3 C701.2 391.4 701.8 388.1 702.6 387 C703.4 385.9 705.7 385.3 707 385.8 C708.3 386.3 709.8 389.3 711.5 390.6 C713.2 391.9 716.4 394.3 718.6 394.7 C720.8 395.1 724.6 394.5 726.6 393.3 C728.6 392.1 731.7 388.7 732.8 386.2 C733.9 383.7 734.6 378.3 734.6 375.5 C734.6 372.7 733.6 368.6 732.8 366.6 C732 364.6 729.6 362.6 729.2 361.3 C728.8 360 729.1 358.2 730.1 357.8 Z" fill="#f7f6ee" stroke="#2c2c2c" stroke-width="1.3" stroke-linejoin="round"/>
<ellipse cx="689.3" cy="409.2" rx="3.3" ry="3.5" fill="none" stroke="#2c2c2c" stroke-width="1.1"/>
<ellipse cx="716.5" cy="415.4" rx="2" ry="3" fill="none" stroke="#2c2c2c" stroke-width="1.1" transform="rotate(15 716.5 415.4)"/>
<line x1="711.5" y1="409.2" x2="705.3" y2="422.5" stroke="#2c2c2c" stroke-width="0.9" stroke-linecap="round"/>
<line x1="692" y1="401.2" x2="710.6" y2="407.5" stroke="#2c2c2c" stroke-width="0.9" stroke-linecap="round"/>
<path d="M523.4 426.6 C524.9 425.6 526.9 426.6 527.9 427.4 C528.9 428.2 530.6 430.5 530.2 431.9 C529.8 433.3 526.7 435.4 525.2 437.2 C523.7 439 520.8 442 519.9 444.3 C519 446.6 518.5 450.7 519 453.2 C519.5 455.7 521.5 460.4 523.4 462.1 C525.3 463.8 529.9 465.1 532.3 464.8 C534.7 464.5 538.5 461.4 540.3 460.3 C542.1 459.2 543.8 456.8 544.8 456.8 C545.8 456.8 547.3 459 547.4 460.3 C547.5 461.6 547 464.3 545.7 465.7 C544.4 467.1 540.9 468.7 538.6 470.1 C536.3 471.5 531.1 474.4 529.7 475.4 C528.3 476.4 525.1 475.5 528.8 477.2 C532.5 478.9 551.2 485.5 555.4 487.5 C559.6 489.5 558 489.1 558.1 491.4 C558.2 493.7 557.2 501.6 556.3 503.9 C555.4 506.2 553.3 507 551.9 507.4 C550.5 507.8 547.9 507.5 546.6 506.6 C545.3 505.7 545.3 502.7 543 501.2 C540.7 499.7 534.7 496.7 530.6 495.9 C526.5 495.1 517.7 496.8 514.6 495.9 C511.5 495 510.1 493.6 509.2 489.7 C508.3 485.8 507.9 474.4 508.3 468.3 C508.7 462.2 510.6 451.8 511.9 447 C513.2 442.2 515.6 437.5 517.2 434.6 C518.8 431.7 521.9 427.6 523.4 426.6 Z" fill="#f7f6ee" stroke="#2c2c2c" stroke-width="1.3" stroke-linejoin="round"/>
<ellipse cx="519.9" cy="489.7" rx="2.4" ry="3" fill="none" stroke="#2c2c2c" stroke-width="1.1" transform="rotate(15 519.9 489.7)"/>
<ellipse cx="549.2" cy="500.3" rx="3" ry="3.4" fill="none" stroke="#2c2c2c" stroke-width="1.1" transform="rotate(15 549.2 500.3)"/>
<line x1="528.8" y1="477.2" x2="524.3" y2="494.1" stroke="#2c2c2c" stroke-width="0.9" stroke-linecap="round"/>
<line x1="530.6" y1="479.9" x2="556.3" y2="490.6" stroke="#2c2c2c" stroke-width="0.9" stroke-linecap="round"/>
<path d="M590.2 450.7 C591.7 449.7 593.7 450.7 594.7 451.5 C595.7 452.3 597.4 454.6 597 456 C596.6 457.4 593.5 459.5 592 461.3 C590.5 463.1 587.6 466.1 586.7 468.4 C585.8 470.7 585.3 474.8 585.8 477.3 C586.3 479.8 588.3 484.5 590.2 486.2 C592.1 487.9 596.7 489.2 599.1 488.9 C601.5 488.6 605.3 485.5 607.1 484.4 C608.9 483.3 610.6 480.9 611.6 480.9 C612.6 480.9 614.1 483.1 614.2 484.4 C614.3 485.7 613.8 488.4 612.5 489.8 C611.2 491.2 607.7 492.8 605.4 494.2 C603.1 495.6 597.9 498.5 596.5 499.5 C595.1 500.5 591.9 499.6 595.6 501.3 C599.3 503 618 509.6 622.2 511.6 C626.4 513.6 624.8 513.2 624.9 515.5 C625 517.8 624 525.7 623.1 528 C622.2 530.3 620.1 531.1 618.7 531.5 C617.3 531.9 614.7 531.6 613.4 530.7 C612.1 529.8 612.1 526.8 609.8 525.3 C607.5 523.8 601.5 520.8 597.4 520 C593.3 519.2 584.5 520.9 581.4 520 C578.3 519.1 576.9 517.7 576 513.8 C575.1 509.9 574.7 498.5 575.1 492.4 C575.5 486.3 577.4 475.9 578.7 471.1 C580 466.3 582.4 461.6 584 458.7 C585.6 455.8 588.7 451.7 590.2 450.7 Z" fill="#f7f6ee" stroke="#2c2c2c" stroke-width="1.3" stroke-linejoin="round"/>
<ellipse cx="586.7" cy="513.8" rx="2.4" ry="3" fill="none" stroke="#2c2c2c" stroke-width="1.1" transform="rotate(15 586.7 513.8)"/>
<ellipse cx="616" cy="524.4" rx="3" ry="3.4" fill="none" stroke="#2c2c2c" stroke-width="1.1" transform="rotate(15 616 524.4)"/>
<line x1="595.6" y1="501.3" x2="591.1" y2="518.2" stroke="#2c2c2c" stroke-width="0.9" stroke-linecap="round"/>
<line x1="597.4" y1="504" x2="623.1" y2="514.7" stroke="#2c2c2c" stroke-width="0.9" stroke-linecap="round"/>
<ellipse cx="558.4" cy="407.2" rx="7.2" ry="9" fill="#f7f6ee" stroke="#2c2c2c" stroke-width="1.2" transform="rotate(15 558.4 407.2)"/>
<ellipse cx="559.6" cy="407.6" rx="7.2" ry="9" fill="#f7f6ee" stroke="#2c2c2c" stroke-width="1.2" transform="rotate(15 559.6 407.6)"/>
<ellipse cx="559.6" cy="407.6" rx="3.2" ry="5" fill="#f7f6ee" stroke="#2c2c2c" stroke-width="1.2" transform="rotate(15 559.6 407.6)"/>
<g transform="translate(598 418) rotate(20)"><path d="M-26 -6 L0 -6 A3.6 6 0 0 1 0 6 L-26 6 A3.6 6 0 0 1 -26 -6 Z" fill="#f7f6ee" stroke="#2c2c2c" stroke-width="1.2" stroke-linejoin="round"/><ellipse cx="0" cy="0" rx="3.6" ry="6" fill="none" stroke="#2c2c2c" stroke-width="1.2"/></g>
<g transform="translate(601 419.5) rotate(20)"><path d="M-4 -8.5 L0 -8.5 A5.1 8.5 0 0 1 0 8.5 L-4 8.5 A5.1 8.5 0 0 1 -4 -8.5 Z" fill="#f7f6ee" stroke="#2c2c2c" stroke-width="1.2" stroke-linejoin="round"/><ellipse cx="0" cy="0" rx="5.1" ry="8.5" fill="none" stroke="#2c2c2c" stroke-width="1.2"/></g>
<g transform="translate(615.4 428.4) rotate(20)"><path d="M-14 -24.5 L0 -24.5 A14.7 24.5 0 0 1 0 24.5 L-14 24.5 A14.7 24.5 0 0 1 -14 -24.5 Z" fill="#f7f6ee" stroke="#2c2c2c" stroke-width="1.3" stroke-linejoin="round"/><ellipse cx="0" cy="0" rx="14.7" ry="24.5" fill="none" stroke="#2c2c2c" stroke-width="1.3"/></g>
<polyline points="609,405 613,409 611,413 616,416 613,424 606,427 604,437 599,441" fill="none" stroke="#2c2c2c" stroke-width="1.1"/>
<polyline points="603,409 606,413 604,417 608,420" fill="none" stroke="#2c2c2c" stroke-width="0.9"/>
<g transform="translate(628 432.5) rotate(20)"><path d="M-12 -20 L0 -20 A12 20 0 0 1 0 20 L-12 20 A12 20 0 0 1 -12 -20 Z" fill="#f7f6ee" stroke="#2c2c2c" stroke-width="1.3" stroke-linejoin="round"/><ellipse cx="0" cy="0" rx="12" ry="20" fill="none" stroke="#2c2c2c" stroke-width="1.3"/><ellipse cx="0" cy="0" rx="9" ry="15" fill="none" stroke="#2c2c2c" stroke-width="0.9"/></g>
<ellipse cx="629" cy="423" rx="1.6" ry="2.1" fill="none" stroke="#2c2c2c" stroke-width="1"/>
<ellipse cx="634" cy="425.9" rx="1.6" ry="2.1" fill="none" stroke="#2c2c2c" stroke-width="1"/>
<ellipse cx="633.5" cy="434.8" rx="1.6" ry="2.1" fill="none" stroke="#2c2c2c" stroke-width="1"/>
<ellipse cx="628" cy="441.6" rx="1.6" ry="2.1" fill="none" stroke="#2c2c2c" stroke-width="1"/>
<g transform="translate(647.4 439) rotate(20)"><path d="M-13 -23.5 L0 -23.5 A14.1 23.5 0 0 1 0 23.5 L-13 23.5 A14.1 23.5 0 0 1 -13 -23.5 Z" fill="#f7f6ee" stroke="#2c2c2c" stroke-width="1.3" stroke-linejoin="round"/><ellipse cx="0" cy="0" rx="14.1" ry="23.5" fill="none" stroke="#2c2c2c" stroke-width="1.3"/></g>
<polyline points="633,437 637,443 642,441 645,447 640,452 636,458" fill="none" stroke="#2c2c2c" stroke-width="1.1"/>
<polyline points="628,440 632,446 636,444" fill="none" stroke="#2c2c2c" stroke-width="0.9"/>
<g transform="translate(670 445.4) rotate(20)"><path d="M-12 -22 L0 -22 A13.2 22 0 0 1 0 22 L-12 22 A13.2 22 0 0 1 -12 -22 Z" fill="#f7f6ee" stroke="#2c2c2c" stroke-width="1.3" stroke-linejoin="round"/><ellipse cx="0" cy="0" rx="13.2" ry="22" fill="none" stroke="#2c2c2c" stroke-width="1.3"/><ellipse cx="0" cy="0" rx="11.1" ry="18.5" fill="none" stroke="#2c2c2c" stroke-width="0.9"/></g>
<ellipse cx="676.9" cy="433.7" rx="1.6" ry="2.1" fill="none" stroke="#2c2c2c" stroke-width="1"/>
<ellipse cx="679.2" cy="441.8" rx="1.6" ry="2.1" fill="none" stroke="#2c2c2c" stroke-width="1"/>
<ellipse cx="676.1" cy="452" rx="1.6" ry="2.1" fill="none" stroke="#2c2c2c" stroke-width="1"/>
<ellipse cx="669.4" cy="458.4" rx="1.6" ry="2.1" fill="none" stroke="#2c2c2c" stroke-width="1"/>
<ellipse cx="663.1" cy="457.1" rx="1.6" ry="2.1" fill="none" stroke="#2c2c2c" stroke-width="1"/>
<ellipse cx="660.8" cy="449" rx="1.6" ry="2.1" fill="none" stroke="#2c2c2c" stroke-width="1"/>
<ellipse cx="663.9" cy="438.8" rx="1.6" ry="2.1" fill="none" stroke="#2c2c2c" stroke-width="1"/>
<ellipse cx="670.6" cy="432.4" rx="1.6" ry="2.1" fill="none" stroke="#2c2c2c" stroke-width="1"/>
<g transform="translate(694 452.6) rotate(20)"><path d="M-26 -6 L0 -6 A3.6 6 0 0 1 0 6 L-26 6 A3.6 6 0 0 1 -26 -6 Z" fill="#f7f6ee" stroke="#2c2c2c" stroke-width="1.3" stroke-linejoin="round"/><ellipse cx="0" cy="0" rx="3.6" ry="6" fill="none" stroke="#2c2c2c" stroke-width="1.3"/></g>
<ellipse cx="709.4" cy="460.3" rx="7.5" ry="9" fill="#f7f6ee" stroke="#2c2c2c" stroke-width="1.2" transform="rotate(15 709.4 460.3)"/>
<ellipse cx="710.6" cy="460.7" rx="7.5" ry="9" fill="#f7f6ee" stroke="#2c2c2c" stroke-width="1.2" transform="rotate(15 710.6 460.7)"/>
<ellipse cx="710.6" cy="460.7" rx="3.5" ry="5" fill="#f7f6ee" stroke="#2c2c2c" stroke-width="1.2" transform="rotate(15 710.6 460.7)"/>
<circle cx="727" cy="483" r="4" fill="none" stroke="#2c2c2c" stroke-width="1"/>
<line x1="737.4" y1="482.3" x2="735.8" y2="490.2" stroke="#1f1f1f" stroke-width="1.3" stroke-linecap="round"/>
<line x1="739.9" y1="483.2" x2="738.2" y2="491.1" stroke="#1f1f1f" stroke-width="1.3" stroke-linecap="round"/>
<line x1="742.3" y1="484.1" x2="740.6" y2="492.1" stroke="#1f1f1f" stroke-width="1.3" stroke-linecap="round"/>
<line x1="744.7" y1="485.1" x2="743.1" y2="493" stroke="#1f1f1f" stroke-width="1.3" stroke-linecap="round"/>
<line x1="747.1" y1="486" x2="745.5" y2="493.9" stroke="#1f1f1f" stroke-width="1.3" stroke-linecap="round"/>
<line x1="749.6" y1="486.9" x2="747.9" y2="494.9" stroke="#1f1f1f" stroke-width="1.3" stroke-linecap="round"/>
<line x1="752" y1="487.9" x2="750.3" y2="495.8" stroke="#1f1f1f" stroke-width="1.3" stroke-linecap="round"/>
<line x1="754.4" y1="488.8" x2="752.8" y2="496.7" stroke="#1f1f1f" stroke-width="1.3" stroke-linecap="round"/>
<g transform="translate(762 494) rotate(21)"><path d="M-3 -7.5 L0 -7.5 A4.5 7.5 0 0 1 0 7.5 L-3 7.5 A4.5 7.5 0 0 1 -3 -7.5 Z" fill="#f7f6ee" stroke="#2c2c2c" stroke-width="1.2" stroke-linejoin="round"/><ellipse cx="0" cy="0" rx="4.5" ry="7.5" fill="none" stroke="#2c2c2c" stroke-width="1.2"/></g>
<g transform="translate(795 506) rotate(21)"><path d="M-36 -6.3 L0 -6.3 A3.8 6.3 0 0 1 0 6.3 L-36 6.3 A3.8 6.3 0 0 1 -36 -6.3 Z" fill="#f7f6ee" stroke="#2c2c2c" stroke-width="1.2" stroke-linejoin="round"/><ellipse cx="0" cy="0" rx="3.8" ry="6.3" fill="none" stroke="#2c2c2c" stroke-width="1.2"/></g>
<g transform="translate(786 440) rotate(20)"><path d="M-52 -4.2 L0 -4.2 A2.5 4.2 0 0 1 0 4.2 L-52 4.2 A2.5 4.2 0 0 1 -52 -4.2 Z" fill="#f7f6ee" stroke="#2c2c2c" stroke-width="1.2" stroke-linejoin="round"/><ellipse cx="0" cy="0" rx="2.5" ry="4.2" fill="none" stroke="#2c2c2c" stroke-width="1.2"/></g>
<g transform="translate(790 442) rotate(20)"><path d="M-3 -6.5 L0 -6.5 A3.9 6.5 0 0 1 0 6.5 L-3 6.5 A3.9 6.5 0 0 1 -3 -6.5 Z" fill="#f7f6ee" stroke="#2c2c2c" stroke-width="1.2" stroke-linejoin="round"/><ellipse cx="0" cy="0" rx="3.9" ry="6.5" fill="none" stroke="#2c2c2c" stroke-width="1.2"/></g>
<g transform="translate(812 450) rotate(20)"><path d="M-24 -4.5 L0 -4.5 A2.7 4.5 0 0 1 0 4.5 L-24 4.5 A2.7 4.5 0 0 1 -24 -4.5 Z" fill="#f7f6ee" stroke="#2c2c2c" stroke-width="1.2" stroke-linejoin="round"/><ellipse cx="0" cy="0" rx="2.7" ry="4.5" fill="none" stroke="#2c2c2c" stroke-width="1.2"/></g>
<g transform="translate(812 450) rotate(20)"><path d="M-8 -4.5V4.5M-5.8 -4.5V4.5M-3.6 -4.5V4.5M-1.4 -4.5V4.5" stroke="#2c2c2c" stroke-width="0.8"/></g>
<ellipse cx="829" cy="454.6" rx="7.5" ry="9" fill="#f7f6ee" stroke="#2c2c2c" stroke-width="1.2" transform="rotate(15 829 454.6)"/>
<ellipse cx="830" cy="455" rx="7.5" ry="9" fill="#f7f6ee" stroke="#2c2c2c" stroke-width="1.2" transform="rotate(15 830 455)"/>
<ellipse cx="830" cy="455" rx="2.5" ry="3" fill="#f7f6ee" stroke="#2c2c2c" stroke-width="1.2" transform="rotate(15 830 455)"/>
<g transform="translate(830 455) rotate(15)"><path d="M0 -3L0 -8.5M1 -2.8L2.7 -7.9M1.8 -2.1L4.9 -6M2.3 -1.1L6.5 -3.3M2.5 0L7 0M2.3 1.1L6.5 3.3M1.8 2.1L4.9 6M1 2.8L2.7 7.9M0 3L0 8.5M-1 2.8L-2.7 7.9M-1.8 2.1L-4.9 6M-2.3 1.1L-6.5 3.3M-2.5 0L-7 0M-2.3 -1.1L-6.5 -3.3M-1.8 -2.1L-4.9 -6M-1 -2.8L-2.7 -7.9" stroke="#2c2c2c" stroke-width="0.8"/></g>
<g transform="translate(847.5 461.8) rotate(20)"><path d="M-4 -7.2 L0 -7.2 A6.1 7.2 0 0 1 0 7.2 L-4 7.2 A6.1 7.2 0 0 1 -4 -7.2 Z" fill="#f7f6ee" stroke="#2c2c2c" stroke-width="1.2" stroke-linejoin="round"/><ellipse cx="0" cy="0" rx="6.1" ry="7.2" fill="none" stroke="#2c2c2c" stroke-width="1.2"/><ellipse cx="0" cy="0" rx="3.2" ry="3.8" fill="#9a998f" stroke="#2c2c2c" stroke-width="1"/></g>
</svg>
<div class="wm" style="left:494.5px;top:191.6px;transform:rotate(21deg)">bosisio</div>
<div class="wm" style="left:765px;top:294px;transform:rotate(21deg)">tori</div>
<div class="t" style="left:46px;top:43.8px">09043007110</div>
<div class="t" style="left:183.4px;top:43.8px">Z = 11</div>
<div class="t" style="left:46px;top:82.3px">09043007120</div>
<div class="t" style="left:183.4px;top:82.3px">Z = 12</div>
<div class="t" style="left:46px;top:120.8px">09043007130</div>
<div class="t" style="left:183.4px;top:120.8px">Z = 13</div>
<div class="t" style="left:46px;top:159.8px">09043007140</div>
<div class="t" style="left:183.4px;top:159.8px">Z = 14</div>
<div class="t" style="left:37.5px;top:327.8px;letter-spacing:1.85px">33043007120</div>
<div class="t" style="left:174.5px;top:327.8px">Z = 12</div>
<div class="t" style="left:37.5px;top:366.6px;letter-spacing:1.85px">33043007130</div>
<div class="t" style="left:174.5px;top:366.6px">Z = 13</div>
<div class="t" style="left:37.5px;top:405.3px;letter-spacing:1.85px">33043007140</div>
<div class="t" style="left:174.5px;top:405.3px">Z = 14</div>
<div class="t s" style="left:438.5px;top:35px">16041005650</div>
<div class="t s" style="left:741.6px;top:126.5px;word-spacing:1.5px">6202 / C3</div>
<div class="t s" style="left:546px;top:183.7px;word-spacing:1.5px">6202 / C3</div>
<div class="t s" style="left:417.6px;top:300.5px">16041005800</div>
<div class="t s" style="left:820.6px;top:287.3px">16041005650</div>
</body></html>
